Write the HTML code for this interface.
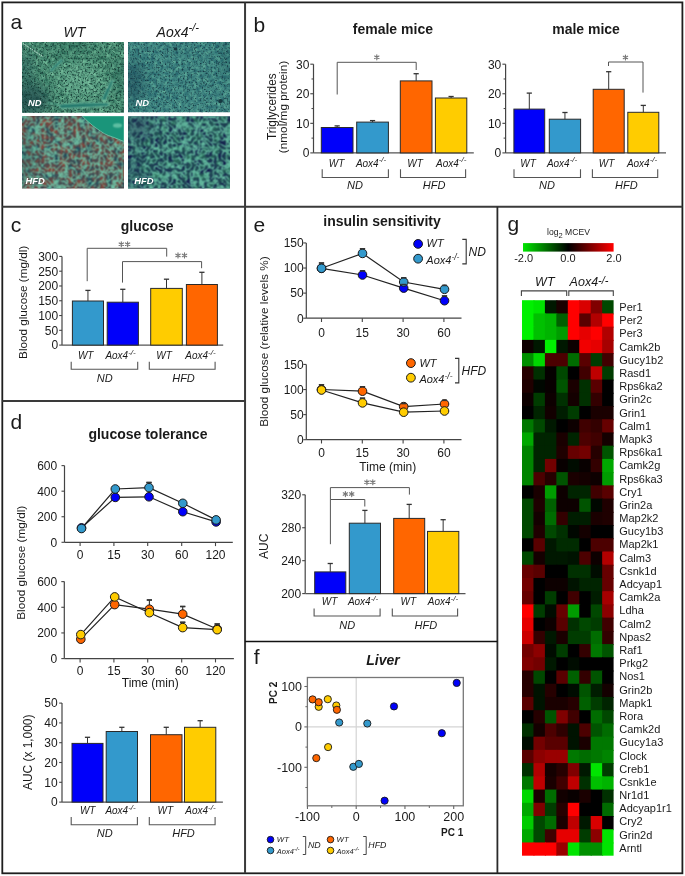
<!DOCTYPE html><html><head><meta charset="utf-8"><style>html,body{margin:0;padding:0;background:#fff;}svg{display:block;will-change:transform;}text{font-family:"Liberation Sans", sans-serif;}</style></head><body>
<svg width="685" height="876" viewBox="0 0 685 876">
<rect x="0" y="0" width="685" height="876" fill="#fff"/>
<defs><filter id="n1" x="0" y="0" width="100%" height="100%" color-interpolation-filters="sRGB"><feTurbulence type="fractalNoise" baseFrequency="0.33" numOctaves="2" seed="7"/><feColorMatrix type="matrix" values="0.678 0 0 0 -0.025  0.753 0 0 0 0.204  0.621 0 0 0 0.164  0 0 0 0 1"/><feConvolveMatrix order="3" kernelMatrix="1 2 1 2 4 2 1 2 1" edgeMode="duplicate" preserveAlpha="false"/></filter><filter id="n1d" x="0" y="0" width="100%" height="100%" color-interpolation-filters="sRGB"><feTurbulence type="fractalNoise" baseFrequency="0.55" numOctaves="2" seed="3" result="n"/><feColorMatrix in="n" type="matrix" values="0 0 0 0 0  0 0 0 0 0  0 0 0 0 0  3.0 0 0 0 -1.45" result="m"/><feFlood flood-color="#143a34"/><feComposite in2="m" operator="in" result="c"/></filter><filter id="n2" x="0" y="0" width="100%" height="100%" color-interpolation-filters="sRGB"><feTurbulence type="fractalNoise" baseFrequency="0.33" numOctaves="2" seed="8"/><feColorMatrix type="matrix" values="0.508 0 0 0 0.001  0.640 0 0 0 0.213  0.395 0 0 0 0.316  0 0 0 0 1"/><feConvolveMatrix order="3" kernelMatrix="1 2 1 2 4 2 1 2 1" edgeMode="duplicate" preserveAlpha="false"/></filter><filter id="n2d" x="0" y="0" width="100%" height="100%" color-interpolation-filters="sRGB"><feTurbulence type="fractalNoise" baseFrequency="0.55" numOctaves="2" seed="13" result="n"/><feColorMatrix in="n" type="matrix" values="0 0 0 0 0  0 0 0 0 0  0 0 0 0 0  3.0 0 0 0 -1.5" result="m"/><feFlood flood-color="#173a46"/><feComposite in2="m" operator="in" result="c"/></filter><filter id="h1" x="0" y="0" width="100%" height="100%" color-interpolation-filters="sRGB"><feTurbulence type="fractalNoise" baseFrequency="0.15" numOctaves="2" seed="3"/><feColorMatrix type="matrix" values="-0.835 0 0 0 0.770  0.088 0 0 0 0.254  0.285 0 0 0 0.159  0 0 0 0 1"/><feConvolveMatrix order="3" kernelMatrix="1 2 1 2 4 2 1 2 1" edgeMode="duplicate" preserveAlpha="false"/></filter><filter id="h1n" x="0" y="0" width="100%" height="100%" color-interpolation-filters="sRGB"><feTurbulence type="turbulence" baseFrequency="0.22" numOctaves="2" seed="9" result="n"/><feColorMatrix in="n" type="matrix" values="0 0 0 0 0  0 0 0 0 0  0 0 0 0 0  -5.5 0 0 0 1.6" result="m"/><feFlood flood-color="#6cbca0"/><feComposite in2="m" operator="in" result="c"/><feConvolveMatrix in="c" order="3" kernelMatrix="1 2 1 2 4 2 1 2 1" edgeMode="duplicate" preserveAlpha="false"/></filter><filter id="h1d" x="0" y="0" width="100%" height="100%" color-interpolation-filters="sRGB"><feTurbulence type="fractalNoise" baseFrequency="0.6" numOctaves="1" seed="2" result="n"/><feColorMatrix in="n" type="matrix" values="0 0 0 0 0  0 0 0 0 0  0 0 0 0 0  4 0 0 0 -2.3" result="m"/><feFlood flood-color="#1a3a40"/><feComposite in2="m" operator="in" result="c"/><feConvolveMatrix in="c" order="3" kernelMatrix="1 2 1 2 4 2 1 2 1" edgeMode="duplicate" preserveAlpha="false"/></filter><filter id="h2" x="0" y="0" width="100%" height="100%" color-interpolation-filters="sRGB"><feTurbulence type="fractalNoise" baseFrequency="0.15" numOctaves="2" seed="5"/><feColorMatrix type="matrix" values="0.154 0 0 0 0.045  0.571 0 0 0 -0.011  0.088 0 0 0 0.285  0 0 0 0 1"/><feConvolveMatrix order="3" kernelMatrix="1 2 1 2 4 2 1 2 1" edgeMode="duplicate" preserveAlpha="false"/></filter><filter id="h2n" x="0" y="0" width="100%" height="100%" color-interpolation-filters="sRGB"><feTurbulence type="turbulence" baseFrequency="0.22" numOctaves="2" seed="19" result="n"/><feColorMatrix in="n" type="matrix" values="0 0 0 0 0  0 0 0 0 0  0 0 0 0 0  -5.5 0 0 0 1.6" result="m"/><feFlood flood-color="#62b89e"/><feComposite in2="m" operator="in" result="c"/><feConvolveMatrix in="c" order="3" kernelMatrix="1 2 1 2 4 2 1 2 1" edgeMode="duplicate" preserveAlpha="false"/></filter><filter id="blur1" x="-50%" y="-50%" width="200%" height="200%"><feGaussianBlur stdDeviation="7"/></filter>
<filter id="blur2" x="-20%" y="-20%" width="140%" height="140%"><feConvolveMatrix order="3" kernelMatrix="1 2 1 2 4 2 1 2 1" edgeMode="none"/></filter>
<linearGradient id="cbar" x1="0" x2="1" y1="0" y2="0">
 <stop offset="0" stop-color="#00e600"/><stop offset="0.5" stop-color="#000"/><stop offset="1" stop-color="#ff0000"/>
</linearGradient>
<clipPath id="c1"><rect x="22" y="42" width="102" height="70.7"/></clipPath>
<clipPath id="c2"><rect x="128" y="42" width="102" height="70.2"/></clipPath>
<clipPath id="c3"><rect x="22" y="116" width="102" height="72.5"/></clipPath>
<clipPath id="c4"><rect x="128" y="116.2" width="102" height="72.3"/></clipPath>
</defs>
<text x="10.6" y="29.0" font-size="21" text-anchor="start" font-weight="normal" font-style="normal" fill="#1a1a1a" >a</text>
<text x="63.5" y="36.6" font-size="14" text-anchor="start" font-weight="normal" font-style="italic" fill="#1a1a1a" >WT</text>
<text x="156.6" y="36.5" font-size="14" text-anchor="start" font-style="italic" fill="#1a1a1a">Aox4<tspan dy="-5.2" font-size="11.2">-/-</tspan></text>
<g clip-path="url(#c1)">
<rect x="22" y="42" width="102" height="70.7" filter="url(#n1)"/>
<g filter="url(#blur1)" opacity="0.75"><ellipse cx="28" cy="100" rx="22" ry="16" fill="#1c4448"/><ellipse cx="24" cy="70" rx="8" ry="20" fill="#2c5e5c"/><ellipse cx="70" cy="47" rx="30" ry="5" fill="#2c6a5a"/><ellipse cx="120" cy="78" rx="7" ry="18" fill="#2c6a5c"/></g>
<g filter="url(#blur1)" opacity="0.35"><ellipse cx="80" cy="80" rx="22" ry="16" fill="#8ad0b0"/></g>
<rect x="22" y="42" width="102" height="70.7" filter="url(#n1d)"/>
<g filter="url(#blur2)"><path d="M49.5,70.5 Q55,64 61.5,59 L63.5,60.2 Q57,66 51.5,72 Z" fill="#277a6e" stroke="#7ccaae" stroke-width="0.7"/><path d="M101.5,99.5 Q106,89 111,80.5 L114,80 Q110,90 105.5,100.5 Z" fill="#277a6e" stroke="#7ccaae" stroke-width="0.7"/><path d="M60,104.2 Q84,102.2 108.5,103 Q109.5,105 108,106.2 Q84,107.5 61,108.6 Q58.5,106.5 60,104.2 Z" fill="#277a6e" stroke="#7ccaae" stroke-width="0.7"/><path d="M47,102.5 Q54,104 60,105" stroke="#5cb096" stroke-width="1" fill="none"/><circle cx="107" cy="87" r="0.6" fill="#e0fff0"/></g>
<path d="M23,43.5 Q33,50 43.5,57" stroke="#f0fffa" stroke-width="0.8" stroke-dasharray="1.6,1.1" fill="none"/>
</g>
<g clip-path="url(#c2)">
<rect x="128" y="42" width="102" height="70.2" filter="url(#n2)"/>
<g filter="url(#blur1)" opacity="0.7"><ellipse cx="133" cy="82" rx="10" ry="22" fill="#1c4c5a"/><ellipse cx="229" cy="60" rx="5" ry="20" fill="#245e62"/></g>
<rect x="128" y="42" width="102" height="70.2" filter="url(#n2d)"/>
<ellipse cx="175.5" cy="49" rx="2" ry="1.5" fill="#163840"/><ellipse cx="220.5" cy="101" rx="2.3" ry="2" fill="#163840"/>
</g>
<g clip-path="url(#c3)">
<rect x="22" y="116" width="102" height="72.5" filter="url(#h1)"/>
<rect x="22" y="116" width="102" height="72.5" filter="url(#h1d)"/>
<rect x="22" y="116" width="102" height="72.5" filter="url(#h1n)"/>
<g filter="url(#blur1)" opacity="0.35"><ellipse cx="26" cy="155" rx="8" ry="25" fill="#245a5a"/></g>
<path d="M82.3,116 Q85,119 88.8,122.2 Q93,126 97,128.7 Q101,131.5 104.3,133.6 Q108,135.6 112.5,136.9 Q118,139 124,141.5 L124,116 Z" fill="#1a957a" stroke="#6cc0a4" stroke-width="0.9"/>
<ellipse cx="117.5" cy="125.5" rx="4.5" ry="2.2" fill="#7ad0b4" opacity="0.7" filter="url(#blur2)"/>
</g>
<g clip-path="url(#c4)">
<rect x="128" y="116.2" width="102" height="72.3" filter="url(#h2)"/>
<rect x="128" y="116.2" width="102" height="72.3" filter="url(#h2n)"/>
<g filter="url(#blur1)" opacity="0.55"><ellipse cx="138" cy="127" rx="14" ry="13" fill="#1a2e50"/><ellipse cx="133" cy="170" rx="7" ry="18" fill="#1e3e56"/></g>
</g>
<text x="28.0" y="105.7" font-size="9.4" text-anchor="start" font-weight="bold" font-style="italic" fill="#fff" >ND</text>
<text x="135.4" y="106.1" font-size="9.4" text-anchor="start" font-weight="bold" font-style="italic" fill="#fff" >ND</text>
<text x="25.6" y="183.7" font-size="9.4" text-anchor="start" font-weight="bold" font-style="italic" fill="#fff" >HFD</text>
<text x="134.3" y="183.7" font-size="9.4" text-anchor="start" font-weight="bold" font-style="italic" fill="#fff" >HFD</text>
<text x="253.5" y="31.8" font-size="21" text-anchor="start" font-weight="normal" font-style="normal" fill="#1a1a1a" >b</text>
<text x="352.8" y="33.9" font-size="14" text-anchor="start" font-weight="bold" font-style="normal" fill="#1a1a1a" >female mice</text>
<text x="552.2" y="33.9" font-size="14" text-anchor="start" font-weight="bold" font-style="normal" fill="#1a1a1a" >male mice</text>
<line x1="313.50" y1="64.19" x2="313.50" y2="152.90" stroke="#444" stroke-width="1.2"/>
<line x1="310.30" y1="152.90" x2="313.50" y2="152.90" stroke="#444" stroke-width="1.1"/>
<text x="309.4" y="157.2" font-size="12" text-anchor="end" font-weight="normal" font-style="normal" fill="#1a1a1a" >0</text>
<line x1="310.30" y1="123.33" x2="313.50" y2="123.33" stroke="#444" stroke-width="1.1"/>
<text x="309.4" y="127.6" font-size="12" text-anchor="end" font-weight="normal" font-style="normal" fill="#1a1a1a" >10</text>
<line x1="310.30" y1="93.76" x2="313.50" y2="93.76" stroke="#444" stroke-width="1.1"/>
<text x="309.4" y="98.1" font-size="12" text-anchor="end" font-weight="normal" font-style="normal" fill="#1a1a1a" >20</text>
<line x1="310.30" y1="64.19" x2="313.50" y2="64.19" stroke="#444" stroke-width="1.1"/>
<text x="309.4" y="68.5" font-size="12" text-anchor="end" font-weight="normal" font-style="normal" fill="#1a1a1a" >30</text>
<line x1="311.50" y1="138.12" x2="313.50" y2="138.12" stroke="#444" stroke-width="1.0"/>
<line x1="311.50" y1="108.55" x2="313.50" y2="108.55" stroke="#444" stroke-width="1.0"/>
<line x1="311.50" y1="78.98" x2="313.50" y2="78.98" stroke="#444" stroke-width="1.0"/>
<line x1="505.60" y1="64.19" x2="505.60" y2="152.90" stroke="#444" stroke-width="1.2"/>
<line x1="502.40" y1="152.90" x2="505.60" y2="152.90" stroke="#444" stroke-width="1.1"/>
<text x="501.3" y="157.2" font-size="12" text-anchor="end" font-weight="normal" font-style="normal" fill="#1a1a1a" >0</text>
<line x1="502.40" y1="123.33" x2="505.60" y2="123.33" stroke="#444" stroke-width="1.1"/>
<text x="501.3" y="127.6" font-size="12" text-anchor="end" font-weight="normal" font-style="normal" fill="#1a1a1a" >10</text>
<line x1="502.40" y1="93.76" x2="505.60" y2="93.76" stroke="#444" stroke-width="1.1"/>
<text x="501.3" y="98.1" font-size="12" text-anchor="end" font-weight="normal" font-style="normal" fill="#1a1a1a" >20</text>
<line x1="502.40" y1="64.19" x2="505.60" y2="64.19" stroke="#444" stroke-width="1.1"/>
<text x="501.3" y="68.5" font-size="12" text-anchor="end" font-weight="normal" font-style="normal" fill="#1a1a1a" >30</text>
<line x1="503.60" y1="138.12" x2="505.60" y2="138.12" stroke="#444" stroke-width="1.0"/>
<line x1="503.60" y1="108.55" x2="505.60" y2="108.55" stroke="#444" stroke-width="1.0"/>
<line x1="503.60" y1="78.98" x2="505.60" y2="78.98" stroke="#444" stroke-width="1.0"/>
<line x1="313.50" y1="152.90" x2="473.80" y2="152.90" stroke="#555" stroke-width="1.3"/>
<line x1="505.60" y1="152.90" x2="666.00" y2="152.90" stroke="#555" stroke-width="1.3"/>
<text transform="translate(275.7,106.7) rotate(-90)" x="0" y="0" font-size="11.85" text-anchor="middle" font-weight="normal" font-style="normal" fill="#1a1a1a">Triglycerides</text>
<text transform="translate(286.6,107.0) rotate(-90)" x="0" y="0" font-size="11.8" text-anchor="middle" font-weight="normal" font-style="normal" fill="#1a1a1a">(nmol/mg protein)</text>
<rect x="321.30" y="127.50" width="31.70" height="25.40" fill="#0000fa" stroke="#2a2a2a" stroke-width="1"/>
<line x1="337.15" y1="127.50" x2="337.15" y2="125.90" stroke="#333" stroke-width="1"/>
<line x1="334.55" y1="125.90" x2="339.75" y2="125.90" stroke="#333" stroke-width="1.3"/>
<rect x="356.70" y="122.10" width="31.70" height="30.80" fill="#3399cc" stroke="#2a2a2a" stroke-width="1"/>
<line x1="372.55" y1="122.10" x2="372.55" y2="120.60" stroke="#333" stroke-width="1"/>
<line x1="369.95" y1="120.60" x2="375.15" y2="120.60" stroke="#333" stroke-width="1.3"/>
<rect x="400.30" y="80.90" width="31.70" height="72.00" fill="#ff6600" stroke="#2a2a2a" stroke-width="1"/>
<line x1="416.15" y1="80.90" x2="416.15" y2="73.70" stroke="#333" stroke-width="1"/>
<line x1="413.55" y1="73.70" x2="418.75" y2="73.70" stroke="#333" stroke-width="1.3"/>
<rect x="435.40" y="98.00" width="31.40" height="54.90" fill="#ffcc00" stroke="#2a2a2a" stroke-width="1"/>
<line x1="451.10" y1="98.00" x2="451.10" y2="96.50" stroke="#333" stroke-width="1"/>
<line x1="448.50" y1="96.50" x2="453.70" y2="96.50" stroke="#333" stroke-width="1.3"/>
<path d="M337.2,94.5 V62.3 H416.2 V70" stroke="#555" stroke-width="1" fill="none"/>
<path d="M376.80,54.80 L376.80,59.80 M374.63,56.05 L378.97,58.55 M378.97,56.05 L374.63,58.55 " stroke="#777" stroke-width="1.15" stroke-linecap="round" fill="none"/>
<rect x="513.90" y="109.10" width="30.80" height="43.80" fill="#0000fa" stroke="#2a2a2a" stroke-width="1"/>
<line x1="529.30" y1="109.10" x2="529.30" y2="93.10" stroke="#333" stroke-width="1"/>
<line x1="526.70" y1="93.10" x2="531.90" y2="93.10" stroke="#333" stroke-width="1.3"/>
<rect x="549.30" y="119.20" width="31.30" height="33.70" fill="#3399cc" stroke="#2a2a2a" stroke-width="1"/>
<line x1="564.95" y1="119.20" x2="564.95" y2="112.50" stroke="#333" stroke-width="1"/>
<line x1="562.35" y1="112.50" x2="567.55" y2="112.50" stroke="#333" stroke-width="1.3"/>
<rect x="593.20" y="89.30" width="31.00" height="63.60" fill="#ff6600" stroke="#2a2a2a" stroke-width="1"/>
<line x1="608.70" y1="89.30" x2="608.70" y2="71.70" stroke="#333" stroke-width="1"/>
<line x1="606.10" y1="71.70" x2="611.30" y2="71.70" stroke="#333" stroke-width="1.3"/>
<rect x="627.80" y="112.30" width="31.00" height="40.60" fill="#ffcc00" stroke="#2a2a2a" stroke-width="1"/>
<line x1="643.30" y1="112.30" x2="643.30" y2="105.40" stroke="#333" stroke-width="1"/>
<line x1="640.70" y1="105.40" x2="645.90" y2="105.40" stroke="#333" stroke-width="1.3"/>
<path d="M608.5,66 V62 H643 V92.6" stroke="#555" stroke-width="1" fill="none"/>
<path d="M625.45,54.95 L625.45,59.95 M623.28,56.20 L627.62,58.70 M627.62,56.20 L623.28,58.70 " stroke="#777" stroke-width="1.15" stroke-linecap="round" fill="none"/>
<text x="328.8" y="166.6" font-size="10" text-anchor="start" font-weight="normal" font-style="italic" fill="#1a1a1a" >WT</text>
<text x="355.9" y="166.6" font-size="10" text-anchor="start" font-style="italic" fill="#1a1a1a">Aox4<tspan dy="-4.2" font-size="8.0">-/-</tspan></text>
<text x="407.2" y="166.6" font-size="10" text-anchor="start" font-weight="normal" font-style="italic" fill="#1a1a1a" >WT</text>
<text x="436.0" y="166.6" font-size="10" text-anchor="start" font-style="italic" fill="#1a1a1a">Aox4<tspan dy="-4.2" font-size="8.0">-/-</tspan></text>
<path d="M322.2,169.3 V177.5 H388.4 V169.3" stroke="#555" stroke-width="1.1" fill="none"/>
<path d="M400.5,169.3 V177.5 H465.6 V169.3" stroke="#555" stroke-width="1.1" fill="none"/>
<text x="347.1" y="189.1" font-size="11" text-anchor="start" font-weight="normal" font-style="italic" fill="#1a1a1a" >ND</text>
<text x="422.8" y="189.1" font-size="11" text-anchor="start" font-weight="normal" font-style="italic" fill="#1a1a1a" >HFD</text>
<text x="520.2" y="166.6" font-size="10" text-anchor="start" font-weight="normal" font-style="italic" fill="#1a1a1a" >WT</text>
<text x="546.9" y="166.6" font-size="10" text-anchor="start" font-style="italic" fill="#1a1a1a">Aox4<tspan dy="-4.2" font-size="8.0">-/-</tspan></text>
<text x="598.7" y="166.6" font-size="10" text-anchor="start" font-weight="normal" font-style="italic" fill="#1a1a1a" >WT</text>
<text x="626.9" y="166.6" font-size="10" text-anchor="start" font-style="italic" fill="#1a1a1a">Aox4<tspan dy="-4.2" font-size="8.0">-/-</tspan></text>
<path d="M514.0,169.3 V177.5 H580.5 V169.3" stroke="#555" stroke-width="1.1" fill="none"/>
<path d="M592.4,169.3 V177.5 H657.7 V169.3" stroke="#555" stroke-width="1.1" fill="none"/>
<text x="539.0" y="189.1" font-size="11" text-anchor="start" font-weight="normal" font-style="italic" fill="#1a1a1a" >ND</text>
<text x="615.0" y="189.1" font-size="11" text-anchor="start" font-weight="normal" font-style="italic" fill="#1a1a1a" >HFD</text>
<text x="10.7" y="231.9" font-size="21" text-anchor="start" font-weight="normal" font-style="normal" fill="#1a1a1a" >c</text>
<text x="120.7" y="230.8" font-size="14" text-anchor="start" font-weight="bold" font-style="normal" fill="#1a1a1a" >glucose</text>
<line x1="62.00" y1="256.42" x2="62.00" y2="345.10" stroke="#444" stroke-width="1.2"/>
<line x1="59.20" y1="345.10" x2="62.00" y2="345.10" stroke="#444" stroke-width="1.1"/>
<text x="58.2" y="349.4" font-size="12" text-anchor="end" font-weight="normal" font-style="normal" fill="#1a1a1a" >0</text>
<line x1="59.20" y1="330.32" x2="62.00" y2="330.32" stroke="#444" stroke-width="1.1"/>
<text x="58.2" y="334.6" font-size="12" text-anchor="end" font-weight="normal" font-style="normal" fill="#1a1a1a" >50</text>
<line x1="59.20" y1="315.54" x2="62.00" y2="315.54" stroke="#444" stroke-width="1.1"/>
<text x="58.2" y="319.8" font-size="12" text-anchor="end" font-weight="normal" font-style="normal" fill="#1a1a1a" >100</text>
<line x1="59.20" y1="300.76" x2="62.00" y2="300.76" stroke="#444" stroke-width="1.1"/>
<text x="58.2" y="305.1" font-size="12" text-anchor="end" font-weight="normal" font-style="normal" fill="#1a1a1a" >150</text>
<line x1="59.20" y1="285.98" x2="62.00" y2="285.98" stroke="#444" stroke-width="1.1"/>
<text x="58.2" y="290.3" font-size="12" text-anchor="end" font-weight="normal" font-style="normal" fill="#1a1a1a" >200</text>
<line x1="59.20" y1="271.20" x2="62.00" y2="271.20" stroke="#444" stroke-width="1.1"/>
<text x="58.2" y="275.5" font-size="12" text-anchor="end" font-weight="normal" font-style="normal" fill="#1a1a1a" >250</text>
<line x1="59.20" y1="256.42" x2="62.00" y2="256.42" stroke="#444" stroke-width="1.1"/>
<text x="58.2" y="260.7" font-size="12" text-anchor="end" font-weight="normal" font-style="normal" fill="#1a1a1a" >300</text>
<line x1="62.00" y1="345.10" x2="223.20" y2="345.10" stroke="#555" stroke-width="1.3"/>
<text transform="translate(27.1,302.4) rotate(-90)" x="0" y="0" font-size="11.7" text-anchor="middle" font-weight="normal" font-style="normal" fill="#1a1a1a">Blood glucose (mg/dl)</text>
<rect x="72.40" y="301.00" width="31.10" height="44.10" fill="#3399cc" stroke="#2a2a2a" stroke-width="1"/>
<line x1="87.95" y1="301.00" x2="87.95" y2="290.40" stroke="#333" stroke-width="1"/>
<line x1="85.35" y1="290.40" x2="90.55" y2="290.40" stroke="#333" stroke-width="1.3"/>
<rect x="107.20" y="302.20" width="31.20" height="42.90" fill="#0000fa" stroke="#2a2a2a" stroke-width="1"/>
<line x1="122.80" y1="302.20" x2="122.80" y2="289.30" stroke="#333" stroke-width="1"/>
<line x1="120.20" y1="289.30" x2="125.40" y2="289.30" stroke="#333" stroke-width="1.3"/>
<rect x="150.70" y="288.40" width="31.60" height="56.70" fill="#ffcc00" stroke="#2a2a2a" stroke-width="1"/>
<line x1="166.50" y1="288.40" x2="166.50" y2="279.20" stroke="#333" stroke-width="1"/>
<line x1="163.90" y1="279.20" x2="169.10" y2="279.20" stroke="#333" stroke-width="1.3"/>
<rect x="186.40" y="284.50" width="31.00" height="60.60" fill="#ff6600" stroke="#2a2a2a" stroke-width="1"/>
<line x1="201.90" y1="284.50" x2="201.90" y2="272.30" stroke="#333" stroke-width="1"/>
<line x1="199.30" y1="272.30" x2="204.50" y2="272.30" stroke="#333" stroke-width="1.3"/>
<path d="M87.2,281.2 V248.3 H166.7 V256.6" stroke="#555" stroke-width="1" fill="none"/>
<path d="M122.5,282.6 V261.6 H201.6 V268.2" stroke="#555" stroke-width="1" fill="none"/>
<path d="M121.30,241.70 L121.30,246.70 M119.13,242.95 L123.47,245.45 M123.47,242.95 L119.13,245.45 " stroke="#777" stroke-width="1.15" stroke-linecap="round" fill="none"/>
<path d="M127.60,241.70 L127.60,246.70 M125.43,242.95 L129.77,245.45 M129.77,242.95 L125.43,245.45 " stroke="#777" stroke-width="1.15" stroke-linecap="round" fill="none"/>
<path d="M178.00,252.90 L178.00,257.90 M175.83,254.15 L180.17,256.65 M180.17,254.15 L175.83,256.65 " stroke="#777" stroke-width="1.15" stroke-linecap="round" fill="none"/>
<path d="M184.50,252.90 L184.50,257.90 M182.33,254.15 L186.67,256.65 M186.67,254.15 L182.33,256.65 " stroke="#777" stroke-width="1.15" stroke-linecap="round" fill="none"/>
<text x="77.9" y="359.4" font-size="10" text-anchor="start" font-weight="normal" font-style="italic" fill="#1a1a1a" >WT</text>
<text x="105.4" y="359.4" font-size="10" text-anchor="start" font-style="italic" fill="#1a1a1a">Aox4<tspan dy="-4.2" font-size="8.0">-/-</tspan></text>
<text x="156.3" y="359.4" font-size="10" text-anchor="start" font-weight="normal" font-style="italic" fill="#1a1a1a" >WT</text>
<text x="185.3" y="359.4" font-size="10" text-anchor="start" font-style="italic" fill="#1a1a1a">Aox4<tspan dy="-4.2" font-size="8.0">-/-</tspan></text>
<path d="M71.2,361.8 V369.3 H137.7 V361.8" stroke="#555" stroke-width="1.1" fill="none"/>
<path d="M149.3,361.8 V369.3 H215.1 V361.8" stroke="#555" stroke-width="1.1" fill="none"/>
<text x="96.7" y="381.7" font-size="11" text-anchor="start" font-weight="normal" font-style="italic" fill="#1a1a1a" >ND</text>
<text x="172.2" y="381.7" font-size="11" text-anchor="start" font-weight="normal" font-style="italic" fill="#1a1a1a" >HFD</text>
<text x="10.4" y="428.9" font-size="21" text-anchor="start" font-weight="normal" font-style="normal" fill="#1a1a1a" >d</text>
<text x="88.4" y="439.3" font-size="14" text-anchor="start" font-weight="bold" font-style="normal" fill="#1a1a1a" >glucose tolerance</text>
<text transform="translate(25.4,562.8) rotate(-90)" x="0" y="0" font-size="11.8" text-anchor="middle" font-weight="normal" font-style="normal" fill="#1a1a1a">Blood glucose (mg/dl)</text>
<line x1="64.50" y1="465.62" x2="64.50" y2="542.30" stroke="#444" stroke-width="1.2"/>
<line x1="61.50" y1="542.30" x2="64.50" y2="542.30" stroke="#444" stroke-width="1.1"/>
<text x="57.2" y="546.6" font-size="12" text-anchor="end" font-weight="normal" font-style="normal" fill="#1a1a1a" >0</text>
<line x1="61.50" y1="516.74" x2="64.50" y2="516.74" stroke="#444" stroke-width="1.1"/>
<text x="57.2" y="521.0" font-size="12" text-anchor="end" font-weight="normal" font-style="normal" fill="#1a1a1a" >200</text>
<line x1="61.50" y1="491.18" x2="64.50" y2="491.18" stroke="#444" stroke-width="1.1"/>
<text x="57.2" y="495.5" font-size="12" text-anchor="end" font-weight="normal" font-style="normal" fill="#1a1a1a" >400</text>
<line x1="61.50" y1="465.62" x2="64.50" y2="465.62" stroke="#444" stroke-width="1.1"/>
<text x="57.2" y="469.9" font-size="12" text-anchor="end" font-weight="normal" font-style="normal" fill="#1a1a1a" >600</text>
<line x1="64.50" y1="542.30" x2="232.80" y2="542.30" stroke="#444" stroke-width="1.3"/>
<line x1="80.10" y1="542.30" x2="80.10" y2="546.10" stroke="#444" stroke-width="1.1"/>
<text x="80.1" y="559.1" font-size="12" text-anchor="middle" font-weight="normal" font-style="normal" fill="#1a1a1a" >0</text>
<line x1="113.90" y1="542.30" x2="113.90" y2="546.10" stroke="#444" stroke-width="1.1"/>
<text x="113.9" y="559.1" font-size="12" text-anchor="middle" font-weight="normal" font-style="normal" fill="#1a1a1a" >15</text>
<line x1="147.70" y1="542.30" x2="147.70" y2="546.10" stroke="#444" stroke-width="1.1"/>
<text x="147.7" y="559.1" font-size="12" text-anchor="middle" font-weight="normal" font-style="normal" fill="#1a1a1a" >30</text>
<line x1="181.70" y1="542.30" x2="181.70" y2="546.10" stroke="#444" stroke-width="1.1"/>
<text x="181.7" y="559.1" font-size="12" text-anchor="middle" font-weight="normal" font-style="normal" fill="#1a1a1a" >60</text>
<line x1="215.50" y1="542.30" x2="215.50" y2="546.10" stroke="#444" stroke-width="1.1"/>
<text x="215.5" y="559.1" font-size="12" text-anchor="middle" font-weight="normal" font-style="normal" fill="#1a1a1a" >120</text>
<line x1="64.30" y1="581.62" x2="64.30" y2="658.60" stroke="#444" stroke-width="1.2"/>
<line x1="61.30" y1="658.60" x2="64.30" y2="658.60" stroke="#444" stroke-width="1.1"/>
<text x="57.2" y="662.9" font-size="12" text-anchor="end" font-weight="normal" font-style="normal" fill="#1a1a1a" >0</text>
<line x1="61.30" y1="632.94" x2="64.30" y2="632.94" stroke="#444" stroke-width="1.1"/>
<text x="57.2" y="637.2" font-size="12" text-anchor="end" font-weight="normal" font-style="normal" fill="#1a1a1a" >200</text>
<line x1="61.30" y1="607.28" x2="64.30" y2="607.28" stroke="#444" stroke-width="1.1"/>
<text x="57.2" y="611.6" font-size="12" text-anchor="end" font-weight="normal" font-style="normal" fill="#1a1a1a" >400</text>
<line x1="61.30" y1="581.62" x2="64.30" y2="581.62" stroke="#444" stroke-width="1.1"/>
<text x="57.2" y="585.9" font-size="12" text-anchor="end" font-weight="normal" font-style="normal" fill="#1a1a1a" >600</text>
<line x1="64.30" y1="658.60" x2="233.90" y2="658.60" stroke="#444" stroke-width="1.3"/>
<line x1="80.10" y1="658.60" x2="80.10" y2="662.40" stroke="#444" stroke-width="1.1"/>
<text x="80.1" y="674.5" font-size="12" text-anchor="middle" font-weight="normal" font-style="normal" fill="#1a1a1a" >0</text>
<line x1="113.90" y1="658.60" x2="113.90" y2="662.40" stroke="#444" stroke-width="1.1"/>
<text x="113.9" y="674.5" font-size="12" text-anchor="middle" font-weight="normal" font-style="normal" fill="#1a1a1a" >15</text>
<line x1="147.70" y1="658.60" x2="147.70" y2="662.40" stroke="#444" stroke-width="1.1"/>
<text x="147.7" y="674.5" font-size="12" text-anchor="middle" font-weight="normal" font-style="normal" fill="#1a1a1a" >30</text>
<line x1="181.70" y1="658.60" x2="181.70" y2="662.40" stroke="#444" stroke-width="1.1"/>
<text x="181.7" y="674.5" font-size="12" text-anchor="middle" font-weight="normal" font-style="normal" fill="#1a1a1a" >60</text>
<line x1="215.50" y1="658.60" x2="215.50" y2="662.40" stroke="#444" stroke-width="1.1"/>
<text x="215.5" y="674.5" font-size="12" text-anchor="middle" font-weight="normal" font-style="normal" fill="#1a1a1a" >120</text>
<text x="150.2" y="687.1" font-size="12" text-anchor="middle" font-weight="normal" font-style="normal" fill="#1a1a1a" >Time (min)</text>
<polyline points="81.5,527.9 115.3,497.4 149.0,496.8 182.8,511.7 216.1,521.9" fill="none" stroke="#222" stroke-width="1.2"/>
<polyline points="81.5,528.5 115.3,489.0 149.0,487.6 182.8,503.3 216.1,519.9" fill="none" stroke="#222" stroke-width="1.2"/>
<line x1="149.00" y1="487.60" x2="149.00" y2="482.50" stroke="#333" stroke-width="1.1"/>
<line x1="146.40" y1="482.50" x2="151.60" y2="482.50" stroke="#333" stroke-width="1.4"/>
<circle cx="81.50" cy="527.90" r="4.3" fill="#0000fa" stroke="#1a1a1a" stroke-width="1"/>
<circle cx="115.30" cy="497.40" r="4.3" fill="#0000fa" stroke="#1a1a1a" stroke-width="1"/>
<circle cx="149.00" cy="496.80" r="4.3" fill="#0000fa" stroke="#1a1a1a" stroke-width="1"/>
<circle cx="182.80" cy="511.70" r="4.3" fill="#0000fa" stroke="#1a1a1a" stroke-width="1"/>
<circle cx="216.10" cy="521.90" r="4.3" fill="#0000fa" stroke="#1a1a1a" stroke-width="1"/>
<circle cx="81.50" cy="528.50" r="4.3" fill="#3399cc" stroke="#1a1a1a" stroke-width="1"/>
<circle cx="115.30" cy="489.00" r="4.3" fill="#3399cc" stroke="#1a1a1a" stroke-width="1"/>
<circle cx="149.00" cy="487.60" r="4.3" fill="#3399cc" stroke="#1a1a1a" stroke-width="1"/>
<circle cx="182.80" cy="503.30" r="4.3" fill="#3399cc" stroke="#1a1a1a" stroke-width="1"/>
<circle cx="216.10" cy="519.90" r="4.3" fill="#3399cc" stroke="#1a1a1a" stroke-width="1"/>
<line x1="146.40" y1="482.50" x2="151.60" y2="482.50" stroke="#333" stroke-width="1.4"/>
<polyline points="80.8,639.2 114.7,604.6 149.4,609.2 182.7,614.1 217.2,629.0" fill="none" stroke="#222" stroke-width="1.2"/>
<polyline points="80.8,634.6 114.7,596.9 149.4,612.7 182.7,627.6 217.2,629.7" fill="none" stroke="#222" stroke-width="1.2"/>
<line x1="149.40" y1="609.20" x2="149.40" y2="600.00" stroke="#333" stroke-width="1.1"/>
<line x1="146.80" y1="600.00" x2="152.00" y2="600.00" stroke="#333" stroke-width="1.4"/>
<line x1="182.70" y1="614.10" x2="182.70" y2="606.50" stroke="#333" stroke-width="1.1"/>
<line x1="180.10" y1="606.50" x2="185.30" y2="606.50" stroke="#333" stroke-width="1.4"/>
<line x1="182.70" y1="627.60" x2="182.70" y2="622.30" stroke="#333" stroke-width="1.1"/>
<line x1="180.10" y1="622.30" x2="185.30" y2="622.30" stroke="#333" stroke-width="1.4"/>
<line x1="217.20" y1="629.00" x2="217.20" y2="624.00" stroke="#333" stroke-width="1.1"/>
<line x1="214.60" y1="624.00" x2="219.80" y2="624.00" stroke="#333" stroke-width="1.4"/>
<circle cx="80.80" cy="639.20" r="4.3" fill="#ff6600" stroke="#1a1a1a" stroke-width="1"/>
<circle cx="114.70" cy="604.60" r="4.3" fill="#ff6600" stroke="#1a1a1a" stroke-width="1"/>
<circle cx="149.40" cy="609.20" r="4.3" fill="#ff6600" stroke="#1a1a1a" stroke-width="1"/>
<circle cx="182.70" cy="614.10" r="4.3" fill="#ff6600" stroke="#1a1a1a" stroke-width="1"/>
<circle cx="217.20" cy="629.00" r="4.3" fill="#ff6600" stroke="#1a1a1a" stroke-width="1"/>
<circle cx="80.80" cy="634.60" r="4.3" fill="#ffcc00" stroke="#1a1a1a" stroke-width="1"/>
<circle cx="114.70" cy="596.90" r="4.3" fill="#ffcc00" stroke="#1a1a1a" stroke-width="1"/>
<circle cx="149.40" cy="612.70" r="4.3" fill="#ffcc00" stroke="#1a1a1a" stroke-width="1"/>
<circle cx="182.70" cy="627.60" r="4.3" fill="#ffcc00" stroke="#1a1a1a" stroke-width="1"/>
<circle cx="217.20" cy="629.70" r="4.3" fill="#ffcc00" stroke="#1a1a1a" stroke-width="1"/>
<line x1="146.80" y1="600.00" x2="152.00" y2="600.00" stroke="#333" stroke-width="1.4"/>
<line x1="180.10" y1="606.50" x2="185.30" y2="606.50" stroke="#333" stroke-width="1.4"/>
<line x1="180.10" y1="622.30" x2="185.30" y2="622.30" stroke="#333" stroke-width="1.4"/>
<line x1="214.60" y1="624.00" x2="219.80" y2="624.00" stroke="#333" stroke-width="1.4"/>
<line x1="62.00" y1="703.10" x2="62.00" y2="802.10" stroke="#444" stroke-width="1.2"/>
<line x1="59.20" y1="802.10" x2="62.00" y2="802.10" stroke="#444" stroke-width="1.1"/>
<text x="57.7" y="806.4" font-size="12" text-anchor="end" font-weight="normal" font-style="normal" fill="#1a1a1a" >0</text>
<line x1="59.20" y1="782.30" x2="62.00" y2="782.30" stroke="#444" stroke-width="1.1"/>
<text x="57.7" y="786.6" font-size="12" text-anchor="end" font-weight="normal" font-style="normal" fill="#1a1a1a" >10</text>
<line x1="59.20" y1="762.50" x2="62.00" y2="762.50" stroke="#444" stroke-width="1.1"/>
<text x="57.7" y="766.8" font-size="12" text-anchor="end" font-weight="normal" font-style="normal" fill="#1a1a1a" >20</text>
<line x1="59.20" y1="742.70" x2="62.00" y2="742.70" stroke="#444" stroke-width="1.1"/>
<text x="57.7" y="747.0" font-size="12" text-anchor="end" font-weight="normal" font-style="normal" fill="#1a1a1a" >30</text>
<line x1="59.20" y1="722.90" x2="62.00" y2="722.90" stroke="#444" stroke-width="1.1"/>
<text x="57.7" y="727.2" font-size="12" text-anchor="end" font-weight="normal" font-style="normal" fill="#1a1a1a" >40</text>
<line x1="59.20" y1="703.10" x2="62.00" y2="703.10" stroke="#444" stroke-width="1.1"/>
<text x="57.7" y="707.4" font-size="12" text-anchor="end" font-weight="normal" font-style="normal" fill="#1a1a1a" >50</text>
<line x1="62.00" y1="802.10" x2="222.90" y2="802.10" stroke="#555" stroke-width="1.3"/>
<text transform="translate(32.0,752.3) rotate(-90)" x="0" y="0" font-size="11.9" text-anchor="middle" font-weight="normal" font-style="normal" fill="#1a1a1a">AUC (x 1,000)</text>
<rect x="72.00" y="743.40" width="31.00" height="58.70" fill="#0000fa" stroke="#2a2a2a" stroke-width="1"/>
<line x1="87.50" y1="743.40" x2="87.50" y2="737.30" stroke="#333" stroke-width="1"/>
<line x1="84.90" y1="737.30" x2="90.10" y2="737.30" stroke="#333" stroke-width="1.3"/>
<rect x="106.20" y="731.50" width="31.30" height="70.60" fill="#3399cc" stroke="#2a2a2a" stroke-width="1"/>
<line x1="121.85" y1="731.50" x2="121.85" y2="727.30" stroke="#333" stroke-width="1"/>
<line x1="119.25" y1="727.30" x2="124.45" y2="727.30" stroke="#333" stroke-width="1.3"/>
<rect x="150.50" y="734.70" width="31.50" height="67.40" fill="#ff6600" stroke="#2a2a2a" stroke-width="1"/>
<line x1="166.25" y1="734.70" x2="166.25" y2="727.30" stroke="#333" stroke-width="1"/>
<line x1="163.65" y1="727.30" x2="168.85" y2="727.30" stroke="#333" stroke-width="1.3"/>
<rect x="184.50" y="727.30" width="31.30" height="74.80" fill="#ffcc00" stroke="#2a2a2a" stroke-width="1"/>
<line x1="200.15" y1="727.30" x2="200.15" y2="720.70" stroke="#333" stroke-width="1"/>
<line x1="197.55" y1="720.70" x2="202.75" y2="720.70" stroke="#333" stroke-width="1.3"/>
<text x="79.9" y="814.4" font-size="10" text-anchor="start" font-weight="normal" font-style="italic" fill="#1a1a1a" >WT</text>
<text x="105.4" y="814.4" font-size="10" text-anchor="start" font-style="italic" fill="#1a1a1a">Aox4<tspan dy="-4.2" font-size="8.0">-/-</tspan></text>
<text x="157.5" y="814.4" font-size="10" text-anchor="start" font-weight="normal" font-style="italic" fill="#1a1a1a" >WT</text>
<text x="185.3" y="814.4" font-size="10" text-anchor="start" font-style="italic" fill="#1a1a1a">Aox4<tspan dy="-4.2" font-size="8.0">-/-</tspan></text>
<path d="M71.2,816.9 V824.8 H137.4 V816.9" stroke="#555" stroke-width="1.1" fill="none"/>
<path d="M149.3,816.9 V824.8 H215.1 V816.9" stroke="#555" stroke-width="1.1" fill="none"/>
<text x="96.7" y="837.2" font-size="11" text-anchor="start" font-weight="normal" font-style="italic" fill="#1a1a1a" >ND</text>
<text x="172.2" y="837.2" font-size="11" text-anchor="start" font-weight="normal" font-style="italic" fill="#1a1a1a" >HFD</text>
<text x="253.4" y="231.9" font-size="21" text-anchor="start" font-weight="normal" font-style="normal" fill="#1a1a1a" >e</text>
<text x="323.3" y="226.4" font-size="14" text-anchor="start" font-weight="bold" font-style="normal" fill="#1a1a1a" >insulin sensitivity</text>
<text transform="translate(267.7,341.6) rotate(-90)" x="0" y="0" font-size="11.8" text-anchor="middle" font-weight="normal" font-style="normal" fill="#1a1a1a">Blood glucose (relative levels %)</text>
<line x1="306.30" y1="242.94" x2="306.30" y2="318.20" stroke="#444" stroke-width="1.2"/>
<line x1="303.30" y1="318.20" x2="306.30" y2="318.20" stroke="#444" stroke-width="1.1"/>
<text x="303.7" y="322.5" font-size="12" text-anchor="end" font-weight="normal" font-style="normal" fill="#1a1a1a" >0</text>
<line x1="303.30" y1="293.12" x2="306.30" y2="293.12" stroke="#444" stroke-width="1.1"/>
<text x="303.7" y="297.4" font-size="12" text-anchor="end" font-weight="normal" font-style="normal" fill="#1a1a1a" >50</text>
<line x1="303.30" y1="268.03" x2="306.30" y2="268.03" stroke="#444" stroke-width="1.1"/>
<text x="303.7" y="272.3" font-size="12" text-anchor="end" font-weight="normal" font-style="normal" fill="#1a1a1a" >100</text>
<line x1="303.30" y1="242.94" x2="306.30" y2="242.94" stroke="#444" stroke-width="1.1"/>
<text x="303.7" y="247.2" font-size="12" text-anchor="end" font-weight="normal" font-style="normal" fill="#1a1a1a" >150</text>
<line x1="306.30" y1="318.20" x2="461.50" y2="318.20" stroke="#444" stroke-width="1.3"/>
<line x1="321.50" y1="318.20" x2="321.50" y2="322.00" stroke="#444" stroke-width="1.1"/>
<text x="321.5" y="336.5" font-size="12" text-anchor="middle" font-weight="normal" font-style="normal" fill="#1a1a1a" >0</text>
<line x1="362.30" y1="318.20" x2="362.30" y2="322.00" stroke="#444" stroke-width="1.1"/>
<text x="362.3" y="336.5" font-size="12" text-anchor="middle" font-weight="normal" font-style="normal" fill="#1a1a1a" >15</text>
<line x1="403.10" y1="318.20" x2="403.10" y2="322.00" stroke="#444" stroke-width="1.1"/>
<text x="403.1" y="336.5" font-size="12" text-anchor="middle" font-weight="normal" font-style="normal" fill="#1a1a1a" >30</text>
<line x1="443.90" y1="318.20" x2="443.90" y2="322.00" stroke="#444" stroke-width="1.1"/>
<text x="443.9" y="336.5" font-size="12" text-anchor="middle" font-weight="normal" font-style="normal" fill="#1a1a1a" >60</text>
<line x1="306.30" y1="364.44" x2="306.30" y2="439.70" stroke="#444" stroke-width="1.2"/>
<line x1="303.30" y1="439.70" x2="306.30" y2="439.70" stroke="#444" stroke-width="1.1"/>
<text x="303.7" y="444.0" font-size="12" text-anchor="end" font-weight="normal" font-style="normal" fill="#1a1a1a" >0</text>
<line x1="303.30" y1="414.62" x2="306.30" y2="414.62" stroke="#444" stroke-width="1.1"/>
<text x="303.7" y="418.9" font-size="12" text-anchor="end" font-weight="normal" font-style="normal" fill="#1a1a1a" >50</text>
<line x1="303.30" y1="389.53" x2="306.30" y2="389.53" stroke="#444" stroke-width="1.1"/>
<text x="303.7" y="393.8" font-size="12" text-anchor="end" font-weight="normal" font-style="normal" fill="#1a1a1a" >100</text>
<line x1="303.30" y1="364.44" x2="306.30" y2="364.44" stroke="#444" stroke-width="1.1"/>
<text x="303.7" y="368.7" font-size="12" text-anchor="end" font-weight="normal" font-style="normal" fill="#1a1a1a" >150</text>
<line x1="306.30" y1="439.70" x2="461.50" y2="439.70" stroke="#444" stroke-width="1.3"/>
<line x1="321.50" y1="439.70" x2="321.50" y2="443.50" stroke="#444" stroke-width="1.1"/>
<text x="321.5" y="456.9" font-size="12" text-anchor="middle" font-weight="normal" font-style="normal" fill="#1a1a1a" >0</text>
<line x1="362.30" y1="439.70" x2="362.30" y2="443.50" stroke="#444" stroke-width="1.1"/>
<text x="362.3" y="456.9" font-size="12" text-anchor="middle" font-weight="normal" font-style="normal" fill="#1a1a1a" >15</text>
<line x1="403.10" y1="439.70" x2="403.10" y2="443.50" stroke="#444" stroke-width="1.1"/>
<text x="403.1" y="456.9" font-size="12" text-anchor="middle" font-weight="normal" font-style="normal" fill="#1a1a1a" >30</text>
<line x1="443.90" y1="439.70" x2="443.90" y2="443.50" stroke="#444" stroke-width="1.1"/>
<text x="443.9" y="456.9" font-size="12" text-anchor="middle" font-weight="normal" font-style="normal" fill="#1a1a1a" >60</text>
<text x="387.8" y="471.2" font-size="12" text-anchor="middle" font-weight="normal" font-style="normal" fill="#1a1a1a" >Time (min)</text>
<polyline points="321.5,268.3 362.5,275.0 403.7,288.1 444.5,300.7" fill="none" stroke="#222" stroke-width="1.2"/>
<polyline points="321.5,268.3 362.5,253.4 403.7,282.0 444.5,289.3" fill="none" stroke="#222" stroke-width="1.2"/>
<line x1="444.50" y1="300.70" x2="444.50" y2="296.00" stroke="#333" stroke-width="1.1"/>
<line x1="441.90" y1="296.00" x2="447.10" y2="296.00" stroke="#333" stroke-width="1.4"/>
<line x1="362.50" y1="275.00" x2="362.50" y2="271.00" stroke="#333" stroke-width="1.1"/>
<line x1="359.90" y1="271.00" x2="365.10" y2="271.00" stroke="#333" stroke-width="1.4"/>
<line x1="403.70" y1="288.10" x2="403.70" y2="284.50" stroke="#333" stroke-width="1.1"/>
<line x1="401.10" y1="284.50" x2="406.30" y2="284.50" stroke="#333" stroke-width="1.4"/>
<circle cx="321.50" cy="268.30" r="4.3" fill="#0000fa" stroke="#1a1a1a" stroke-width="1"/>
<circle cx="362.50" cy="275.00" r="4.3" fill="#0000fa" stroke="#1a1a1a" stroke-width="1"/>
<circle cx="403.70" cy="288.10" r="4.3" fill="#0000fa" stroke="#1a1a1a" stroke-width="1"/>
<circle cx="444.50" cy="300.70" r="4.3" fill="#0000fa" stroke="#1a1a1a" stroke-width="1"/>
<line x1="321.50" y1="268.30" x2="321.50" y2="263.00" stroke="#333" stroke-width="1.1"/>
<line x1="318.90" y1="263.00" x2="324.10" y2="263.00" stroke="#333" stroke-width="1.4"/>
<line x1="362.50" y1="253.40" x2="362.50" y2="248.70" stroke="#333" stroke-width="1.1"/>
<line x1="359.90" y1="248.70" x2="365.10" y2="248.70" stroke="#333" stroke-width="1.4"/>
<line x1="403.70" y1="282.00" x2="403.70" y2="277.90" stroke="#333" stroke-width="1.1"/>
<line x1="401.10" y1="277.90" x2="406.30" y2="277.90" stroke="#333" stroke-width="1.4"/>
<line x1="444.50" y1="289.30" x2="444.50" y2="285.50" stroke="#333" stroke-width="1.1"/>
<line x1="441.90" y1="285.50" x2="447.10" y2="285.50" stroke="#333" stroke-width="1.4"/>
<circle cx="321.50" cy="268.30" r="4.3" fill="#3399cc" stroke="#1a1a1a" stroke-width="1"/>
<circle cx="362.50" cy="253.40" r="4.3" fill="#3399cc" stroke="#1a1a1a" stroke-width="1"/>
<circle cx="403.70" cy="282.00" r="4.3" fill="#3399cc" stroke="#1a1a1a" stroke-width="1"/>
<circle cx="444.50" cy="289.30" r="4.3" fill="#3399cc" stroke="#1a1a1a" stroke-width="1"/>
<line x1="441.90" y1="296.00" x2="447.10" y2="296.00" stroke="#333" stroke-width="1.4"/>
<line x1="359.90" y1="271.00" x2="365.10" y2="271.00" stroke="#333" stroke-width="1.4"/>
<line x1="401.10" y1="284.50" x2="406.30" y2="284.50" stroke="#333" stroke-width="1.4"/>
<line x1="318.90" y1="263.00" x2="324.10" y2="263.00" stroke="#333" stroke-width="1.4"/>
<line x1="359.90" y1="248.70" x2="365.10" y2="248.70" stroke="#333" stroke-width="1.4"/>
<line x1="401.10" y1="277.90" x2="406.30" y2="277.90" stroke="#333" stroke-width="1.4"/>
<line x1="441.90" y1="285.50" x2="447.10" y2="285.50" stroke="#333" stroke-width="1.4"/>
<polyline points="321.5,389.5 362.5,391.2 403.7,406.6 444.5,404.0" fill="none" stroke="#222" stroke-width="1.2"/>
<polyline points="321.5,390.0 362.5,402.9 403.7,412.2 444.5,411.0" fill="none" stroke="#222" stroke-width="1.2"/>
<line x1="321.50" y1="389.50" x2="321.50" y2="384.70" stroke="#333" stroke-width="1.1"/>
<line x1="318.90" y1="384.70" x2="324.10" y2="384.70" stroke="#333" stroke-width="1.4"/>
<line x1="362.50" y1="391.20" x2="362.50" y2="386.80" stroke="#333" stroke-width="1.1"/>
<line x1="359.90" y1="386.80" x2="365.10" y2="386.80" stroke="#333" stroke-width="1.4"/>
<line x1="403.70" y1="406.60" x2="403.70" y2="403.60" stroke="#333" stroke-width="1.1"/>
<line x1="401.10" y1="403.60" x2="406.30" y2="403.60" stroke="#333" stroke-width="1.4"/>
<line x1="444.50" y1="404.00" x2="444.50" y2="400.40" stroke="#333" stroke-width="1.1"/>
<line x1="441.90" y1="400.40" x2="447.10" y2="400.40" stroke="#333" stroke-width="1.4"/>
<circle cx="321.50" cy="389.50" r="4.3" fill="#ff6600" stroke="#1a1a1a" stroke-width="1"/>
<circle cx="362.50" cy="391.20" r="4.3" fill="#ff6600" stroke="#1a1a1a" stroke-width="1"/>
<circle cx="403.70" cy="406.60" r="4.3" fill="#ff6600" stroke="#1a1a1a" stroke-width="1"/>
<circle cx="444.50" cy="404.00" r="4.3" fill="#ff6600" stroke="#1a1a1a" stroke-width="1"/>
<line x1="362.50" y1="402.90" x2="362.50" y2="398.20" stroke="#333" stroke-width="1.1"/>
<line x1="359.90" y1="398.20" x2="365.10" y2="398.20" stroke="#333" stroke-width="1.4"/>
<circle cx="321.50" cy="390.00" r="4.3" fill="#ffcc00" stroke="#1a1a1a" stroke-width="1"/>
<circle cx="362.50" cy="402.90" r="4.3" fill="#ffcc00" stroke="#1a1a1a" stroke-width="1"/>
<circle cx="403.70" cy="412.20" r="4.3" fill="#ffcc00" stroke="#1a1a1a" stroke-width="1"/>
<circle cx="444.50" cy="411.00" r="4.3" fill="#ffcc00" stroke="#1a1a1a" stroke-width="1"/>
<line x1="318.90" y1="384.70" x2="324.10" y2="384.70" stroke="#333" stroke-width="1.4"/>
<line x1="359.90" y1="386.80" x2="365.10" y2="386.80" stroke="#333" stroke-width="1.4"/>
<line x1="401.10" y1="403.60" x2="406.30" y2="403.60" stroke="#333" stroke-width="1.4"/>
<line x1="441.90" y1="400.40" x2="447.10" y2="400.40" stroke="#333" stroke-width="1.4"/>
<line x1="359.90" y1="398.20" x2="365.10" y2="398.20" stroke="#333" stroke-width="1.4"/>
<circle cx="418.10" cy="243.90" r="4.4" fill="#0000fa" stroke="#1a1a1a" stroke-width="1"/>
<text x="426.6" y="247.3" font-size="11" text-anchor="start" font-weight="normal" font-style="italic" fill="#1a1a1a" >WT</text>
<circle cx="418.10" cy="258.70" r="4.4" fill="#3399cc" stroke="#1a1a1a" stroke-width="1"/>
<text x="426.3" y="263.6" font-size="11" text-anchor="start" font-style="italic" fill="#1a1a1a">Aox4<tspan dy="-4.1" font-size="8.5">-/-</tspan></text>
<path d="M462.3,239.4 H466.2 V263.9 H462.3" stroke="#333" stroke-width="1.1" fill="none"/>
<text x="468.5" y="255.7" font-size="12" text-anchor="start" font-weight="normal" font-style="italic" fill="#1a1a1a" >ND</text>
<circle cx="410.90" cy="363.10" r="4.4" fill="#ff6600" stroke="#1a1a1a" stroke-width="1"/>
<text x="419.4" y="366.8" font-size="11" text-anchor="start" font-weight="normal" font-style="italic" fill="#1a1a1a" >WT</text>
<circle cx="410.90" cy="377.70" r="4.4" fill="#ffcc00" stroke="#1a1a1a" stroke-width="1"/>
<text x="419.4" y="382.8" font-size="11" text-anchor="start" font-style="italic" fill="#1a1a1a">Aox4<tspan dy="-4.1" font-size="8.5">-/-</tspan></text>
<path d="M455,358.4 H458.8 V382.9 H455" stroke="#333" stroke-width="1.1" fill="none"/>
<text x="461.5" y="374.5" font-size="12" text-anchor="start" font-weight="normal" font-style="italic" fill="#1a1a1a" >HFD</text>
<line x1="305.20" y1="494.80" x2="305.20" y2="593.60" stroke="#444" stroke-width="1.2"/>
<line x1="302.20" y1="593.60" x2="305.20" y2="593.60" stroke="#444" stroke-width="1.1"/>
<text x="301.2" y="597.9" font-size="12" text-anchor="end" font-weight="normal" font-style="normal" fill="#1a1a1a" >200</text>
<line x1="302.20" y1="560.67" x2="305.20" y2="560.67" stroke="#444" stroke-width="1.1"/>
<text x="301.2" y="565.0" font-size="12" text-anchor="end" font-weight="normal" font-style="normal" fill="#1a1a1a" >240</text>
<line x1="302.20" y1="527.74" x2="305.20" y2="527.74" stroke="#444" stroke-width="1.1"/>
<text x="301.2" y="532.0" font-size="12" text-anchor="end" font-weight="normal" font-style="normal" fill="#1a1a1a" >280</text>
<line x1="302.20" y1="494.80" x2="305.20" y2="494.80" stroke="#444" stroke-width="1.1"/>
<text x="301.2" y="499.1" font-size="12" text-anchor="end" font-weight="normal" font-style="normal" fill="#1a1a1a" >320</text>
<line x1="305.20" y1="593.60" x2="465.50" y2="593.60" stroke="#555" stroke-width="1.3"/>
<text transform="translate(268.0,546.3) rotate(-90)" x="0" y="0" font-size="12" text-anchor="middle" font-weight="normal" font-style="normal" fill="#1a1a1a">AUC</text>
<rect x="314.70" y="571.90" width="31.10" height="21.70" fill="#0000fa" stroke="#2a2a2a" stroke-width="1"/>
<line x1="330.25" y1="571.90" x2="330.25" y2="563.50" stroke="#333" stroke-width="1"/>
<line x1="327.65" y1="563.50" x2="332.85" y2="563.50" stroke="#333" stroke-width="1.3"/>
<rect x="349.30" y="523.20" width="31.20" height="70.40" fill="#3399cc" stroke="#2a2a2a" stroke-width="1"/>
<line x1="364.90" y1="523.20" x2="364.90" y2="510.40" stroke="#333" stroke-width="1"/>
<line x1="362.30" y1="510.40" x2="367.50" y2="510.40" stroke="#333" stroke-width="1.3"/>
<rect x="393.70" y="518.40" width="31.00" height="75.20" fill="#ff6600" stroke="#2a2a2a" stroke-width="1"/>
<line x1="409.20" y1="518.40" x2="409.20" y2="504.40" stroke="#333" stroke-width="1"/>
<line x1="406.60" y1="504.40" x2="411.80" y2="504.40" stroke="#333" stroke-width="1.3"/>
<rect x="427.50" y="531.40" width="31.30" height="62.20" fill="#ffcc00" stroke="#2a2a2a" stroke-width="1"/>
<line x1="443.15" y1="531.40" x2="443.15" y2="519.70" stroke="#333" stroke-width="1"/>
<line x1="440.55" y1="519.70" x2="445.75" y2="519.70" stroke="#333" stroke-width="1.3"/>
<path d="M330.4,544.2 V499.5 H364.8 V506.5" stroke="#555" stroke-width="1" fill="none"/>
<path d="M330.4,499.5 V487.6 H409.4 V494.6" stroke="#555" stroke-width="1" fill="none"/>
<path d="M345.40,491.55 L345.40,496.55 M343.23,492.80 L347.57,495.30 M347.57,492.80 L343.23,495.30 " stroke="#777" stroke-width="1.15" stroke-linecap="round" fill="none"/>
<path d="M351.70,491.55 L351.70,496.55 M349.53,492.80 L353.87,495.30 M353.87,492.80 L349.53,495.30 " stroke="#777" stroke-width="1.15" stroke-linecap="round" fill="none"/>
<path d="M366.90,479.70 L366.90,484.70 M364.73,480.95 L369.07,483.45 M369.07,480.95 L364.73,483.45 " stroke="#777" stroke-width="1.15" stroke-linecap="round" fill="none"/>
<path d="M372.80,479.70 L372.80,484.70 M370.63,480.95 L374.97,483.45 M374.97,480.95 L370.63,483.45 " stroke="#777" stroke-width="1.15" stroke-linecap="round" fill="none"/>
<text x="321.8" y="605.4" font-size="10" text-anchor="start" font-weight="normal" font-style="italic" fill="#1a1a1a" >WT</text>
<text x="347.9" y="605.4" font-size="10" text-anchor="start" font-style="italic" fill="#1a1a1a">Aox4<tspan dy="-4.2" font-size="8.0">-/-</tspan></text>
<text x="400.5" y="605.4" font-size="10" text-anchor="start" font-weight="normal" font-style="italic" fill="#1a1a1a" >WT</text>
<text x="427.8" y="605.4" font-size="10" text-anchor="start" font-style="italic" fill="#1a1a1a">Aox4<tspan dy="-4.2" font-size="8.0">-/-</tspan></text>
<path d="M314.1,608.6 V616.0 H380.1 V608.6" stroke="#555" stroke-width="1.1" fill="none"/>
<path d="M392.3,608.6 V616.0 H457.6 V608.6" stroke="#555" stroke-width="1.1" fill="none"/>
<text x="339.2" y="628.5" font-size="11" text-anchor="start" font-weight="normal" font-style="italic" fill="#1a1a1a" >ND</text>
<text x="414.6" y="628.5" font-size="11" text-anchor="start" font-weight="normal" font-style="italic" fill="#1a1a1a" >HFD</text>
<text x="253.8" y="663.7" font-size="21" text-anchor="start" font-weight="normal" font-style="normal" fill="#1a1a1a" >f</text>
<text x="366.3" y="664.6" font-size="14" text-anchor="start" font-weight="bold" font-style="italic" fill="#1a1a1a" >Liver</text>
<line x1="356.20" y1="677.50" x2="356.20" y2="805.80" stroke="#d4d4d4" stroke-width="1.2"/>
<line x1="307.40" y1="726.90" x2="463.30" y2="726.90" stroke="#d4d4d4" stroke-width="1.2"/>
<rect x="307.4" y="677.5" width="155.9" height="128.3" fill="none" stroke="#777" stroke-width="1.3"/>
<line x1="304.40" y1="686.50" x2="307.40" y2="686.50" stroke="#666" stroke-width="1.1"/>
<text x="302.0" y="690.9" font-size="12.5" text-anchor="end" font-weight="normal" font-style="normal" fill="#1a1a1a" >100</text>
<line x1="304.40" y1="726.90" x2="307.40" y2="726.90" stroke="#666" stroke-width="1.1"/>
<text x="302.0" y="731.3" font-size="12.5" text-anchor="end" font-weight="normal" font-style="normal" fill="#1a1a1a" >0</text>
<line x1="304.40" y1="767.30" x2="307.40" y2="767.30" stroke="#666" stroke-width="1.1"/>
<text x="302.0" y="771.7" font-size="12.5" text-anchor="end" font-weight="normal" font-style="normal" fill="#1a1a1a" >-100</text>
<line x1="305.40" y1="706.70" x2="307.40" y2="706.70" stroke="#666" stroke-width="1.0"/>
<line x1="305.40" y1="747.10" x2="307.40" y2="747.10" stroke="#666" stroke-width="1.0"/>
<line x1="305.40" y1="787.50" x2="307.40" y2="787.50" stroke="#666" stroke-width="1.0"/>
<line x1="307.45" y1="805.80" x2="307.45" y2="809.00" stroke="#666" stroke-width="1.1"/>
<text x="307.4" y="821.4" font-size="12.5" text-anchor="middle" font-weight="normal" font-style="normal" fill="#1a1a1a" >-100</text>
<line x1="356.20" y1="805.80" x2="356.20" y2="809.00" stroke="#666" stroke-width="1.1"/>
<text x="356.2" y="821.4" font-size="12.5" text-anchor="middle" font-weight="normal" font-style="normal" fill="#1a1a1a" >0</text>
<line x1="404.95" y1="805.80" x2="404.95" y2="809.00" stroke="#666" stroke-width="1.1"/>
<text x="404.9" y="821.4" font-size="12.5" text-anchor="middle" font-weight="normal" font-style="normal" fill="#1a1a1a" >100</text>
<line x1="453.70" y1="805.80" x2="453.70" y2="809.00" stroke="#666" stroke-width="1.1"/>
<text x="453.7" y="821.4" font-size="12.5" text-anchor="middle" font-weight="normal" font-style="normal" fill="#1a1a1a" >200</text>
<line x1="331.82" y1="805.80" x2="331.82" y2="808.00" stroke="#666" stroke-width="1.0"/>
<line x1="380.57" y1="805.80" x2="380.57" y2="808.00" stroke="#666" stroke-width="1.0"/>
<line x1="429.32" y1="805.80" x2="429.32" y2="808.00" stroke="#666" stroke-width="1.0"/>
<text x="441.1" y="835.6" font-size="10" text-anchor="start" font-weight="bold" font-style="normal" fill="#1a1a1a" >PC 1</text>
<text transform="translate(277.0,692.8) rotate(-90)" x="0" y="0" font-size="10" text-anchor="middle" font-weight="bold" font-style="normal" fill="#1a1a1a">PC 2</text>
<circle cx="339.20" cy="722.50" r="3.6" fill="#3399cc" stroke="#1a1a1a" stroke-width="0.9"/>
<circle cx="367.30" cy="723.50" r="3.6" fill="#3399cc" stroke="#1a1a1a" stroke-width="0.9"/>
<circle cx="353.30" cy="766.80" r="3.6" fill="#3399cc" stroke="#1a1a1a" stroke-width="0.9"/>
<circle cx="358.90" cy="763.90" r="3.6" fill="#3399cc" stroke="#1a1a1a" stroke-width="0.9"/>
<circle cx="456.70" cy="682.90" r="3.6" fill="#0000fa" stroke="#1a1a1a" stroke-width="0.9"/>
<circle cx="394.00" cy="706.40" r="3.6" fill="#0000fa" stroke="#1a1a1a" stroke-width="0.9"/>
<circle cx="441.80" cy="733.20" r="3.6" fill="#0000fa" stroke="#1a1a1a" stroke-width="0.9"/>
<circle cx="384.60" cy="800.70" r="3.6" fill="#0000fa" stroke="#1a1a1a" stroke-width="0.9"/>
<circle cx="318.70" cy="706.80" r="3.6" fill="#ffcc00" stroke="#1a1a1a" stroke-width="0.9"/>
<circle cx="327.80" cy="699.20" r="3.6" fill="#ffcc00" stroke="#1a1a1a" stroke-width="0.9"/>
<circle cx="336.30" cy="705.50" r="3.6" fill="#ffcc00" stroke="#1a1a1a" stroke-width="0.9"/>
<circle cx="328.10" cy="747.10" r="3.6" fill="#ffcc00" stroke="#1a1a1a" stroke-width="0.9"/>
<circle cx="312.60" cy="699.40" r="3.6" fill="#ff6600" stroke="#1a1a1a" stroke-width="0.9"/>
<circle cx="318.70" cy="702.20" r="3.6" fill="#ff6600" stroke="#1a1a1a" stroke-width="0.9"/>
<circle cx="336.90" cy="709.80" r="3.6" fill="#ff6600" stroke="#1a1a1a" stroke-width="0.9"/>
<circle cx="316.30" cy="758.10" r="3.6" fill="#ff6600" stroke="#1a1a1a" stroke-width="0.9"/>
<circle cx="270.50" cy="839.60" r="3.3" fill="#0000fa" stroke="#1a1a1a" stroke-width="0.9"/>
<text x="276.8" y="842.2" font-size="7.8" text-anchor="start" font-weight="normal" font-style="italic" fill="#1a1a1a" >WT</text>
<circle cx="270.50" cy="850.50" r="3.3" fill="#3399cc" stroke="#1a1a1a" stroke-width="0.9"/>
<text x="276.8" y="854.0" font-size="7.5" text-anchor="start" font-style="italic" fill="#1a1a1a">Aox4<tspan dy="-3.2" font-size="6.0">-/-</tspan></text>
<path d="M302.8,836.5 H305.7 V854.5 H302.8" stroke="#444" stroke-width="1" fill="none"/>
<text x="307.9" y="848.3" font-size="8.8" text-anchor="start" font-weight="normal" font-style="italic" fill="#1a1a1a" >ND</text>
<circle cx="330.50" cy="839.60" r="3.3" fill="#ff6600" stroke="#1a1a1a" stroke-width="0.9"/>
<text x="336.6" y="842.2" font-size="7.8" text-anchor="start" font-weight="normal" font-style="italic" fill="#1a1a1a" >WT</text>
<circle cx="330.50" cy="850.50" r="3.3" fill="#ffcc00" stroke="#1a1a1a" stroke-width="0.9"/>
<text x="336.6" y="854.0" font-size="7.5" text-anchor="start" font-style="italic" fill="#1a1a1a">Aox4<tspan dy="-3.2" font-size="6.0">-/-</tspan></text>
<path d="M363.2,836.5 H366.2 V854.5 H363.2" stroke="#444" stroke-width="1" fill="none"/>
<text x="368.3" y="848.3" font-size="8.8" text-anchor="start" font-weight="normal" font-style="italic" fill="#1a1a1a" >HFD</text>
<text x="507.6" y="231.2" font-size="21" text-anchor="start" font-weight="normal" font-style="normal" fill="#1a1a1a" >g</text>
<text x="547" y="234.8" font-size="8.6" fill="#1a1a1a">log<tspan dy="3.6" font-size="7.5">2</tspan><tspan dy="-3.6"> MCEV</tspan></text>
<rect x="523.0" y="243.1" width="90.6" height="8.5" fill="url(#cbar)"/>
<text x="514.2" y="262.1" font-size="11" text-anchor="start" font-weight="normal" font-style="normal" fill="#1a1a1a" >-2.0</text>
<text x="560.3" y="262.1" font-size="11" text-anchor="start" font-weight="normal" font-style="normal" fill="#1a1a1a" >0.0</text>
<text x="606.3" y="262.1" font-size="11" text-anchor="start" font-weight="normal" font-style="normal" fill="#1a1a1a" >2.0</text>
<text x="535.1" y="286.1" font-size="12.5" text-anchor="start" font-weight="normal" font-style="italic" fill="#1a1a1a" >WT</text>
<text x="569.6" y="286.0" font-size="12.5" text-anchor="start" font-style="italic" fill="#1a1a1a">Aox4<tspan dy="-2.4" font-size="11.0">-/-</tspan></text>
<path d="M521.4,296 V290.9 H566.7 V296" stroke="#444" stroke-width="1.1" fill="none"/>
<path d="M568.8,296 V290.9 H613.3 V296" stroke="#444" stroke-width="1.1" fill="none"/>
<rect x="522.00" y="300.20" width="12.45" height="14.23" fill="rgb(0,240,0)"/>
<rect x="533.45" y="300.20" width="12.45" height="14.23" fill="rgb(0,228,0)"/>
<rect x="544.90" y="300.20" width="12.45" height="14.23" fill="rgb(0,24,0)"/>
<rect x="556.35" y="300.20" width="12.45" height="14.23" fill="rgb(26,0,0)"/>
<rect x="567.80" y="300.20" width="12.45" height="14.23" fill="rgb(255,0,0)"/>
<rect x="579.25" y="300.20" width="12.45" height="14.23" fill="rgb(217,0,0)"/>
<rect x="590.70" y="300.20" width="12.45" height="14.23" fill="rgb(128,0,0)"/>
<rect x="602.15" y="300.20" width="11.45" height="14.23" fill="rgb(0,72,0)"/>
<rect x="522.00" y="313.43" width="12.45" height="14.23" fill="rgb(0,240,0)"/>
<rect x="533.45" y="313.43" width="12.45" height="14.23" fill="rgb(0,192,0)"/>
<rect x="544.90" y="313.43" width="12.45" height="14.23" fill="rgb(0,180,0)"/>
<rect x="556.35" y="313.43" width="12.45" height="14.23" fill="rgb(0,96,0)"/>
<rect x="567.80" y="313.43" width="12.45" height="14.23" fill="rgb(255,0,0)"/>
<rect x="579.25" y="313.43" width="12.45" height="14.23" fill="rgb(89,0,0)"/>
<rect x="590.70" y="313.43" width="12.45" height="14.23" fill="rgb(178,0,0)"/>
<rect x="602.15" y="313.43" width="11.45" height="14.23" fill="rgb(255,0,0)"/>
<rect x="522.00" y="326.65" width="12.45" height="14.23" fill="rgb(0,240,0)"/>
<rect x="533.45" y="326.65" width="12.45" height="14.23" fill="rgb(0,192,0)"/>
<rect x="544.90" y="326.65" width="12.45" height="14.23" fill="rgb(0,180,0)"/>
<rect x="556.35" y="326.65" width="12.45" height="14.23" fill="rgb(0,156,0)"/>
<rect x="567.80" y="326.65" width="12.45" height="14.23" fill="rgb(255,0,0)"/>
<rect x="579.25" y="326.65" width="12.45" height="14.23" fill="rgb(230,0,0)"/>
<rect x="590.70" y="326.65" width="12.45" height="14.23" fill="rgb(255,0,0)"/>
<rect x="602.15" y="326.65" width="11.45" height="14.23" fill="rgb(178,0,0)"/>
<rect x="522.00" y="339.88" width="12.45" height="14.23" fill="rgb(13,0,0)"/>
<rect x="533.45" y="339.88" width="12.45" height="14.23" fill="rgb(0,24,0)"/>
<rect x="544.90" y="339.88" width="12.45" height="14.23" fill="rgb(0,240,0)"/>
<rect x="556.35" y="339.88" width="12.45" height="14.23" fill="rgb(0,24,0)"/>
<rect x="567.80" y="339.88" width="12.45" height="14.23" fill="rgb(13,0,0)"/>
<rect x="579.25" y="339.88" width="12.45" height="14.23" fill="rgb(242,0,0)"/>
<rect x="590.70" y="339.88" width="12.45" height="14.23" fill="rgb(230,0,0)"/>
<rect x="602.15" y="339.88" width="11.45" height="14.23" fill="rgb(166,0,0)"/>
<rect x="522.00" y="353.10" width="12.45" height="14.23" fill="rgb(0,144,0)"/>
<rect x="533.45" y="353.10" width="12.45" height="14.23" fill="rgb(0,216,0)"/>
<rect x="544.90" y="353.10" width="12.45" height="14.23" fill="rgb(76,0,0)"/>
<rect x="556.35" y="353.10" width="12.45" height="14.23" fill="rgb(76,0,0)"/>
<rect x="567.80" y="353.10" width="12.45" height="14.23" fill="rgb(0,108,0)"/>
<rect x="579.25" y="353.10" width="12.45" height="14.23" fill="rgb(89,0,0)"/>
<rect x="590.70" y="353.10" width="12.45" height="14.23" fill="rgb(0,60,0)"/>
<rect x="602.15" y="353.10" width="11.45" height="14.23" fill="rgb(64,0,0)"/>
<rect x="522.00" y="366.33" width="12.45" height="14.23" fill="rgb(38,0,0)"/>
<rect x="533.45" y="366.33" width="12.45" height="14.23" fill="rgb(0,48,0)"/>
<rect x="544.90" y="366.33" width="12.45" height="14.23" fill="rgb(5,0,0)"/>
<rect x="556.35" y="366.33" width="12.45" height="14.23" fill="rgb(0,72,0)"/>
<rect x="567.80" y="366.33" width="12.45" height="14.23" fill="rgb(0,0,0)"/>
<rect x="579.25" y="366.33" width="12.45" height="14.23" fill="rgb(64,0,0)"/>
<rect x="590.70" y="366.33" width="12.45" height="14.23" fill="rgb(191,0,0)"/>
<rect x="602.15" y="366.33" width="11.45" height="14.23" fill="rgb(0,60,0)"/>
<rect x="522.00" y="379.56" width="12.45" height="14.23" fill="rgb(31,0,0)"/>
<rect x="533.45" y="379.56" width="12.45" height="14.23" fill="rgb(0,7,0)"/>
<rect x="544.90" y="379.56" width="12.45" height="14.23" fill="rgb(8,0,0)"/>
<rect x="556.35" y="379.56" width="12.45" height="14.23" fill="rgb(0,84,0)"/>
<rect x="567.80" y="379.56" width="12.45" height="14.23" fill="rgb(26,0,0)"/>
<rect x="579.25" y="379.56" width="12.45" height="14.23" fill="rgb(0,48,0)"/>
<rect x="590.70" y="379.56" width="12.45" height="14.23" fill="rgb(89,0,0)"/>
<rect x="602.15" y="379.56" width="11.45" height="14.23" fill="rgb(0,0,0)"/>
<rect x="522.00" y="392.78" width="12.45" height="14.23" fill="rgb(13,0,0)"/>
<rect x="533.45" y="392.78" width="12.45" height="14.23" fill="rgb(0,60,0)"/>
<rect x="544.90" y="392.78" width="12.45" height="14.23" fill="rgb(13,0,0)"/>
<rect x="556.35" y="392.78" width="12.45" height="14.23" fill="rgb(0,48,0)"/>
<rect x="567.80" y="392.78" width="12.45" height="14.23" fill="rgb(20,0,0)"/>
<rect x="579.25" y="392.78" width="12.45" height="14.23" fill="rgb(0,48,0)"/>
<rect x="590.70" y="392.78" width="12.45" height="14.23" fill="rgb(51,0,0)"/>
<rect x="602.15" y="392.78" width="11.45" height="14.23" fill="rgb(0,0,0)"/>
<rect x="522.00" y="406.01" width="12.45" height="14.23" fill="rgb(0,0,0)"/>
<rect x="533.45" y="406.01" width="12.45" height="14.23" fill="rgb(0,36,0)"/>
<rect x="544.90" y="406.01" width="12.45" height="14.23" fill="rgb(18,0,0)"/>
<rect x="556.35" y="406.01" width="12.45" height="14.23" fill="rgb(0,29,0)"/>
<rect x="567.80" y="406.01" width="12.45" height="14.23" fill="rgb(0,60,0)"/>
<rect x="579.25" y="406.01" width="12.45" height="14.23" fill="rgb(0,0,0)"/>
<rect x="590.70" y="406.01" width="12.45" height="14.23" fill="rgb(26,0,0)"/>
<rect x="602.15" y="406.01" width="11.45" height="14.23" fill="rgb(26,0,0)"/>
<rect x="522.00" y="419.23" width="12.45" height="14.23" fill="rgb(0,120,0)"/>
<rect x="533.45" y="419.23" width="12.45" height="14.23" fill="rgb(0,72,0)"/>
<rect x="544.90" y="419.23" width="12.45" height="14.23" fill="rgb(0,24,0)"/>
<rect x="556.35" y="419.23" width="12.45" height="14.23" fill="rgb(0,0,0)"/>
<rect x="567.80" y="419.23" width="12.45" height="14.23" fill="rgb(13,0,0)"/>
<rect x="579.25" y="419.23" width="12.45" height="14.23" fill="rgb(64,0,0)"/>
<rect x="590.70" y="419.23" width="12.45" height="14.23" fill="rgb(51,0,0)"/>
<rect x="602.15" y="419.23" width="11.45" height="14.23" fill="rgb(102,0,0)"/>
<rect x="522.00" y="432.46" width="12.45" height="14.23" fill="rgb(0,168,0)"/>
<rect x="533.45" y="432.46" width="12.45" height="14.23" fill="rgb(0,36,0)"/>
<rect x="544.90" y="432.46" width="12.45" height="14.23" fill="rgb(0,36,0)"/>
<rect x="556.35" y="432.46" width="12.45" height="14.23" fill="rgb(26,0,0)"/>
<rect x="567.80" y="432.46" width="12.45" height="14.23" fill="rgb(0,36,0)"/>
<rect x="579.25" y="432.46" width="12.45" height="14.23" fill="rgb(76,0,0)"/>
<rect x="590.70" y="432.46" width="12.45" height="14.23" fill="rgb(64,0,0)"/>
<rect x="602.15" y="432.46" width="11.45" height="14.23" fill="rgb(20,0,0)"/>
<rect x="522.00" y="445.69" width="12.45" height="14.23" fill="rgb(0,132,0)"/>
<rect x="533.45" y="445.69" width="12.45" height="14.23" fill="rgb(0,36,0)"/>
<rect x="544.90" y="445.69" width="12.45" height="14.23" fill="rgb(0,36,0)"/>
<rect x="556.35" y="445.69" width="12.45" height="14.23" fill="rgb(31,0,0)"/>
<rect x="567.80" y="445.69" width="12.45" height="14.23" fill="rgb(102,0,0)"/>
<rect x="579.25" y="445.69" width="12.45" height="14.23" fill="rgb(115,0,0)"/>
<rect x="590.70" y="445.69" width="12.45" height="14.23" fill="rgb(38,0,0)"/>
<rect x="602.15" y="445.69" width="11.45" height="14.23" fill="rgb(0,84,0)"/>
<rect x="522.00" y="458.91" width="12.45" height="14.23" fill="rgb(0,132,0)"/>
<rect x="533.45" y="458.91" width="12.45" height="14.23" fill="rgb(0,36,0)"/>
<rect x="544.90" y="458.91" width="12.45" height="14.23" fill="rgb(115,0,0)"/>
<rect x="556.35" y="458.91" width="12.45" height="14.23" fill="rgb(8,0,0)"/>
<rect x="567.80" y="458.91" width="12.45" height="14.23" fill="rgb(0,12,0)"/>
<rect x="579.25" y="458.91" width="12.45" height="14.23" fill="rgb(8,0,0)"/>
<rect x="590.70" y="458.91" width="12.45" height="14.23" fill="rgb(51,0,0)"/>
<rect x="602.15" y="458.91" width="11.45" height="14.23" fill="rgb(0,168,0)"/>
<rect x="522.00" y="472.14" width="12.45" height="14.23" fill="rgb(0,132,0)"/>
<rect x="533.45" y="472.14" width="12.45" height="14.23" fill="rgb(76,0,0)"/>
<rect x="544.90" y="472.14" width="12.45" height="14.23" fill="rgb(38,0,0)"/>
<rect x="556.35" y="472.14" width="12.45" height="14.23" fill="rgb(0,84,0)"/>
<rect x="567.80" y="472.14" width="12.45" height="14.23" fill="rgb(26,0,0)"/>
<rect x="579.25" y="472.14" width="12.45" height="14.23" fill="rgb(20,0,0)"/>
<rect x="590.70" y="472.14" width="12.45" height="14.23" fill="rgb(13,0,0)"/>
<rect x="602.15" y="472.14" width="11.45" height="14.23" fill="rgb(0,156,0)"/>
<rect x="522.00" y="485.36" width="12.45" height="14.23" fill="rgb(0,0,0)"/>
<rect x="533.45" y="485.36" width="12.45" height="14.23" fill="rgb(26,0,0)"/>
<rect x="544.90" y="485.36" width="12.45" height="14.23" fill="rgb(0,156,0)"/>
<rect x="556.35" y="485.36" width="12.45" height="14.23" fill="rgb(13,0,0)"/>
<rect x="567.80" y="485.36" width="12.45" height="14.23" fill="rgb(0,36,0)"/>
<rect x="579.25" y="485.36" width="12.45" height="14.23" fill="rgb(0,36,0)"/>
<rect x="590.70" y="485.36" width="12.45" height="14.23" fill="rgb(64,0,0)"/>
<rect x="602.15" y="485.36" width="11.45" height="14.23" fill="rgb(89,0,0)"/>
<rect x="522.00" y="498.59" width="12.45" height="14.23" fill="rgb(0,72,0)"/>
<rect x="533.45" y="498.59" width="12.45" height="14.23" fill="rgb(31,0,0)"/>
<rect x="544.90" y="498.59" width="12.45" height="14.23" fill="rgb(0,96,0)"/>
<rect x="556.35" y="498.59" width="12.45" height="14.23" fill="rgb(13,0,0)"/>
<rect x="567.80" y="498.59" width="12.45" height="14.23" fill="rgb(13,0,0)"/>
<rect x="579.25" y="498.59" width="12.45" height="14.23" fill="rgb(0,84,0)"/>
<rect x="590.70" y="498.59" width="12.45" height="14.23" fill="rgb(0,7,0)"/>
<rect x="602.15" y="498.59" width="11.45" height="14.23" fill="rgb(31,0,0)"/>
<rect x="522.00" y="511.82" width="12.45" height="14.23" fill="rgb(0,72,0)"/>
<rect x="533.45" y="511.82" width="12.45" height="14.23" fill="rgb(20,0,0)"/>
<rect x="544.90" y="511.82" width="12.45" height="14.23" fill="rgb(0,108,0)"/>
<rect x="556.35" y="511.82" width="12.45" height="14.23" fill="rgb(51,0,0)"/>
<rect x="567.80" y="511.82" width="12.45" height="14.23" fill="rgb(0,29,0)"/>
<rect x="579.25" y="511.82" width="12.45" height="14.23" fill="rgb(0,29,0)"/>
<rect x="590.70" y="511.82" width="12.45" height="14.23" fill="rgb(26,0,0)"/>
<rect x="602.15" y="511.82" width="11.45" height="14.23" fill="rgb(31,0,0)"/>
<rect x="522.00" y="525.04" width="12.45" height="14.23" fill="rgb(0,72,0)"/>
<rect x="533.45" y="525.04" width="12.45" height="14.23" fill="rgb(31,0,0)"/>
<rect x="544.90" y="525.04" width="12.45" height="14.23" fill="rgb(0,72,0)"/>
<rect x="556.35" y="525.04" width="12.45" height="14.23" fill="rgb(0,48,0)"/>
<rect x="567.80" y="525.04" width="12.45" height="14.23" fill="rgb(0,7,0)"/>
<rect x="579.25" y="525.04" width="12.45" height="14.23" fill="rgb(20,0,0)"/>
<rect x="590.70" y="525.04" width="12.45" height="14.23" fill="rgb(0,0,0)"/>
<rect x="602.15" y="525.04" width="11.45" height="14.23" fill="rgb(0,0,0)"/>
<rect x="522.00" y="538.27" width="12.45" height="14.23" fill="rgb(0,0,0)"/>
<rect x="533.45" y="538.27" width="12.45" height="14.23" fill="rgb(89,0,0)"/>
<rect x="544.90" y="538.27" width="12.45" height="14.23" fill="rgb(0,24,0)"/>
<rect x="556.35" y="538.27" width="12.45" height="14.23" fill="rgb(0,43,0)"/>
<rect x="567.80" y="538.27" width="12.45" height="14.23" fill="rgb(0,43,0)"/>
<rect x="579.25" y="538.27" width="12.45" height="14.23" fill="rgb(0,0,0)"/>
<rect x="590.70" y="538.27" width="12.45" height="14.23" fill="rgb(76,0,0)"/>
<rect x="602.15" y="538.27" width="11.45" height="14.23" fill="rgb(76,0,0)"/>
<rect x="522.00" y="551.49" width="12.45" height="14.23" fill="rgb(0,72,0)"/>
<rect x="533.45" y="551.49" width="12.45" height="14.23" fill="rgb(20,0,0)"/>
<rect x="544.90" y="551.49" width="12.45" height="14.23" fill="rgb(0,24,0)"/>
<rect x="556.35" y="551.49" width="12.45" height="14.23" fill="rgb(0,24,0)"/>
<rect x="567.80" y="551.49" width="12.45" height="14.23" fill="rgb(0,19,0)"/>
<rect x="579.25" y="551.49" width="12.45" height="14.23" fill="rgb(76,0,0)"/>
<rect x="590.70" y="551.49" width="12.45" height="14.23" fill="rgb(13,0,0)"/>
<rect x="602.15" y="551.49" width="11.45" height="14.23" fill="rgb(178,0,0)"/>
<rect x="522.00" y="564.72" width="12.45" height="14.23" fill="rgb(102,0,0)"/>
<rect x="533.45" y="564.72" width="12.45" height="14.23" fill="rgb(89,0,0)"/>
<rect x="544.90" y="564.72" width="12.45" height="14.23" fill="rgb(0,0,0)"/>
<rect x="556.35" y="564.72" width="12.45" height="14.23" fill="rgb(0,0,0)"/>
<rect x="567.80" y="564.72" width="12.45" height="14.23" fill="rgb(0,48,0)"/>
<rect x="579.25" y="564.72" width="12.45" height="14.23" fill="rgb(0,48,0)"/>
<rect x="590.70" y="564.72" width="12.45" height="14.23" fill="rgb(0,12,0)"/>
<rect x="602.15" y="564.72" width="11.45" height="14.23" fill="rgb(102,0,0)"/>
<rect x="522.00" y="577.95" width="12.45" height="14.23" fill="rgb(115,0,0)"/>
<rect x="533.45" y="577.95" width="12.45" height="14.23" fill="rgb(0,0,0)"/>
<rect x="544.90" y="577.95" width="12.45" height="14.23" fill="rgb(13,0,0)"/>
<rect x="556.35" y="577.95" width="12.45" height="14.23" fill="rgb(13,0,0)"/>
<rect x="567.80" y="577.95" width="12.45" height="14.23" fill="rgb(0,19,0)"/>
<rect x="579.25" y="577.95" width="12.45" height="14.23" fill="rgb(0,36,0)"/>
<rect x="590.70" y="577.95" width="12.45" height="14.23" fill="rgb(0,36,0)"/>
<rect x="602.15" y="577.95" width="11.45" height="14.23" fill="rgb(102,0,0)"/>
<rect x="522.00" y="591.17" width="12.45" height="14.23" fill="rgb(102,0,0)"/>
<rect x="533.45" y="591.17" width="12.45" height="14.23" fill="rgb(0,0,0)"/>
<rect x="544.90" y="591.17" width="12.45" height="14.23" fill="rgb(0,60,0)"/>
<rect x="556.35" y="591.17" width="12.45" height="14.23" fill="rgb(0,0,0)"/>
<rect x="567.80" y="591.17" width="12.45" height="14.23" fill="rgb(64,0,0)"/>
<rect x="579.25" y="591.17" width="12.45" height="14.23" fill="rgb(0,0,0)"/>
<rect x="590.70" y="591.17" width="12.45" height="14.23" fill="rgb(0,29,0)"/>
<rect x="602.15" y="591.17" width="11.45" height="14.23" fill="rgb(166,0,0)"/>
<rect x="522.00" y="604.40" width="12.45" height="14.23" fill="rgb(255,0,0)"/>
<rect x="533.45" y="604.40" width="12.45" height="14.23" fill="rgb(0,60,0)"/>
<rect x="544.90" y="604.40" width="12.45" height="14.23" fill="rgb(0,12,0)"/>
<rect x="556.35" y="604.40" width="12.45" height="14.23" fill="rgb(102,0,0)"/>
<rect x="567.80" y="604.40" width="12.45" height="14.23" fill="rgb(0,156,0)"/>
<rect x="579.25" y="604.40" width="12.45" height="14.23" fill="rgb(0,0,0)"/>
<rect x="590.70" y="604.40" width="12.45" height="14.23" fill="rgb(0,72,0)"/>
<rect x="602.15" y="604.40" width="11.45" height="14.23" fill="rgb(140,0,0)"/>
<rect x="522.00" y="617.62" width="12.45" height="14.23" fill="rgb(230,0,0)"/>
<rect x="533.45" y="617.62" width="12.45" height="14.23" fill="rgb(0,0,0)"/>
<rect x="544.90" y="617.62" width="12.45" height="14.23" fill="rgb(13,0,0)"/>
<rect x="556.35" y="617.62" width="12.45" height="14.23" fill="rgb(89,0,0)"/>
<rect x="567.80" y="617.62" width="12.45" height="14.23" fill="rgb(0,48,0)"/>
<rect x="579.25" y="617.62" width="12.45" height="14.23" fill="rgb(0,72,0)"/>
<rect x="590.70" y="617.62" width="12.45" height="14.23" fill="rgb(0,60,0)"/>
<rect x="602.15" y="617.62" width="11.45" height="14.23" fill="rgb(64,0,0)"/>
<rect x="522.00" y="630.85" width="12.45" height="14.23" fill="rgb(204,0,0)"/>
<rect x="533.45" y="630.85" width="12.45" height="14.23" fill="rgb(51,0,0)"/>
<rect x="544.90" y="630.85" width="12.45" height="14.23" fill="rgb(0,24,0)"/>
<rect x="556.35" y="630.85" width="12.45" height="14.23" fill="rgb(26,0,0)"/>
<rect x="567.80" y="630.85" width="12.45" height="14.23" fill="rgb(0,60,0)"/>
<rect x="579.25" y="630.85" width="12.45" height="14.23" fill="rgb(0,60,0)"/>
<rect x="590.70" y="630.85" width="12.45" height="14.23" fill="rgb(0,108,0)"/>
<rect x="602.15" y="630.85" width="11.45" height="14.23" fill="rgb(51,0,0)"/>
<rect x="522.00" y="644.08" width="12.45" height="14.23" fill="rgb(115,0,0)"/>
<rect x="533.45" y="644.08" width="12.45" height="14.23" fill="rgb(140,0,0)"/>
<rect x="544.90" y="644.08" width="12.45" height="14.23" fill="rgb(0,12,0)"/>
<rect x="556.35" y="644.08" width="12.45" height="14.23" fill="rgb(0,60,0)"/>
<rect x="567.80" y="644.08" width="12.45" height="14.23" fill="rgb(0,0,0)"/>
<rect x="579.25" y="644.08" width="12.45" height="14.23" fill="rgb(51,0,0)"/>
<rect x="590.70" y="644.08" width="12.45" height="14.23" fill="rgb(0,120,0)"/>
<rect x="602.15" y="644.08" width="11.45" height="14.23" fill="rgb(0,84,0)"/>
<rect x="522.00" y="657.30" width="12.45" height="14.23" fill="rgb(128,0,0)"/>
<rect x="533.45" y="657.30" width="12.45" height="14.23" fill="rgb(115,0,0)"/>
<rect x="544.90" y="657.30" width="12.45" height="14.23" fill="rgb(0,24,0)"/>
<rect x="556.35" y="657.30" width="12.45" height="14.23" fill="rgb(0,0,0)"/>
<rect x="567.80" y="657.30" width="12.45" height="14.23" fill="rgb(0,12,0)"/>
<rect x="579.25" y="657.30" width="12.45" height="14.23" fill="rgb(0,0,0)"/>
<rect x="590.70" y="657.30" width="12.45" height="14.23" fill="rgb(0,0,0)"/>
<rect x="602.15" y="657.30" width="11.45" height="14.23" fill="rgb(0,0,0)"/>
<rect x="522.00" y="670.53" width="12.45" height="14.23" fill="rgb(38,0,0)"/>
<rect x="533.45" y="670.53" width="12.45" height="14.23" fill="rgb(0,72,0)"/>
<rect x="544.90" y="670.53" width="12.45" height="14.23" fill="rgb(0,0,0)"/>
<rect x="556.35" y="670.53" width="12.45" height="14.23" fill="rgb(89,0,0)"/>
<rect x="567.80" y="670.53" width="12.45" height="14.23" fill="rgb(0,96,0)"/>
<rect x="579.25" y="670.53" width="12.45" height="14.23" fill="rgb(51,0,0)"/>
<rect x="590.70" y="670.53" width="12.45" height="14.23" fill="rgb(0,84,0)"/>
<rect x="602.15" y="670.53" width="11.45" height="14.23" fill="rgb(0,0,0)"/>
<rect x="522.00" y="683.75" width="12.45" height="14.23" fill="rgb(38,0,0)"/>
<rect x="533.45" y="683.75" width="12.45" height="14.23" fill="rgb(0,19,0)"/>
<rect x="544.90" y="683.75" width="12.45" height="14.23" fill="rgb(38,0,0)"/>
<rect x="556.35" y="683.75" width="12.45" height="14.23" fill="rgb(0,0,0)"/>
<rect x="567.80" y="683.75" width="12.45" height="14.23" fill="rgb(0,12,0)"/>
<rect x="579.25" y="683.75" width="12.45" height="14.23" fill="rgb(0,84,0)"/>
<rect x="590.70" y="683.75" width="12.45" height="14.23" fill="rgb(0,29,0)"/>
<rect x="602.15" y="683.75" width="11.45" height="14.23" fill="rgb(20,0,0)"/>
<rect x="522.00" y="696.98" width="12.45" height="14.23" fill="rgb(89,0,0)"/>
<rect x="533.45" y="696.98" width="12.45" height="14.23" fill="rgb(0,19,0)"/>
<rect x="544.90" y="696.98" width="12.45" height="14.23" fill="rgb(26,0,0)"/>
<rect x="556.35" y="696.98" width="12.45" height="14.23" fill="rgb(26,0,0)"/>
<rect x="567.80" y="696.98" width="12.45" height="14.23" fill="rgb(38,0,0)"/>
<rect x="579.25" y="696.98" width="12.45" height="14.23" fill="rgb(0,96,0)"/>
<rect x="590.70" y="696.98" width="12.45" height="14.23" fill="rgb(0,60,0)"/>
<rect x="602.15" y="696.98" width="11.45" height="14.23" fill="rgb(0,36,0)"/>
<rect x="522.00" y="710.21" width="12.45" height="14.23" fill="rgb(0,0,0)"/>
<rect x="533.45" y="710.21" width="12.45" height="14.23" fill="rgb(38,0,0)"/>
<rect x="544.90" y="710.21" width="12.45" height="14.23" fill="rgb(0,84,0)"/>
<rect x="556.35" y="710.21" width="12.45" height="14.23" fill="rgb(128,0,0)"/>
<rect x="567.80" y="710.21" width="12.45" height="14.23" fill="rgb(64,0,0)"/>
<rect x="579.25" y="710.21" width="12.45" height="14.23" fill="rgb(0,0,0)"/>
<rect x="590.70" y="710.21" width="12.45" height="14.23" fill="rgb(0,108,0)"/>
<rect x="602.15" y="710.21" width="11.45" height="14.23" fill="rgb(0,72,0)"/>
<rect x="522.00" y="723.43" width="12.45" height="14.23" fill="rgb(0,48,0)"/>
<rect x="533.45" y="723.43" width="12.45" height="14.23" fill="rgb(20,0,0)"/>
<rect x="544.90" y="723.43" width="12.45" height="14.23" fill="rgb(76,0,0)"/>
<rect x="556.35" y="723.43" width="12.45" height="14.23" fill="rgb(46,0,0)"/>
<rect x="567.80" y="723.43" width="12.45" height="14.23" fill="rgb(0,19,0)"/>
<rect x="579.25" y="723.43" width="12.45" height="14.23" fill="rgb(76,0,0)"/>
<rect x="590.70" y="723.43" width="12.45" height="14.23" fill="rgb(0,84,0)"/>
<rect x="602.15" y="723.43" width="11.45" height="14.23" fill="rgb(0,108,0)"/>
<rect x="522.00" y="736.66" width="12.45" height="14.23" fill="rgb(0,12,0)"/>
<rect x="533.45" y="736.66" width="12.45" height="14.23" fill="rgb(115,0,0)"/>
<rect x="544.90" y="736.66" width="12.45" height="14.23" fill="rgb(89,0,0)"/>
<rect x="556.35" y="736.66" width="12.45" height="14.23" fill="rgb(89,0,0)"/>
<rect x="567.80" y="736.66" width="12.45" height="14.23" fill="rgb(0,19,0)"/>
<rect x="579.25" y="736.66" width="12.45" height="14.23" fill="rgb(26,0,0)"/>
<rect x="590.70" y="736.66" width="12.45" height="14.23" fill="rgb(0,120,0)"/>
<rect x="602.15" y="736.66" width="11.45" height="14.23" fill="rgb(0,120,0)"/>
<rect x="522.00" y="749.88" width="12.45" height="14.23" fill="rgb(89,0,0)"/>
<rect x="533.45" y="749.88" width="12.45" height="14.23" fill="rgb(140,0,0)"/>
<rect x="544.90" y="749.88" width="12.45" height="14.23" fill="rgb(153,0,0)"/>
<rect x="556.35" y="749.88" width="12.45" height="14.23" fill="rgb(153,0,0)"/>
<rect x="567.80" y="749.88" width="12.45" height="14.23" fill="rgb(0,120,0)"/>
<rect x="579.25" y="749.88" width="12.45" height="14.23" fill="rgb(0,108,0)"/>
<rect x="590.70" y="749.88" width="12.45" height="14.23" fill="rgb(0,120,0)"/>
<rect x="602.15" y="749.88" width="11.45" height="14.23" fill="rgb(0,132,0)"/>
<rect x="522.00" y="763.11" width="12.45" height="14.23" fill="rgb(0,48,0)"/>
<rect x="533.45" y="763.11" width="12.45" height="14.23" fill="rgb(178,0,0)"/>
<rect x="544.90" y="763.11" width="12.45" height="14.23" fill="rgb(20,0,0)"/>
<rect x="556.35" y="763.11" width="12.45" height="14.23" fill="rgb(38,0,0)"/>
<rect x="567.80" y="763.11" width="12.45" height="14.23" fill="rgb(128,0,0)"/>
<rect x="579.25" y="763.11" width="12.45" height="14.23" fill="rgb(0,24,0)"/>
<rect x="590.70" y="763.11" width="12.45" height="14.23" fill="rgb(0,228,0)"/>
<rect x="602.15" y="763.11" width="11.45" height="14.23" fill="rgb(0,60,0)"/>
<rect x="522.00" y="776.34" width="12.45" height="14.23" fill="rgb(0,120,0)"/>
<rect x="533.45" y="776.34" width="12.45" height="14.23" fill="rgb(191,0,0)"/>
<rect x="544.90" y="776.34" width="12.45" height="14.23" fill="rgb(26,0,0)"/>
<rect x="556.35" y="776.34" width="12.45" height="14.23" fill="rgb(64,0,0)"/>
<rect x="567.80" y="776.34" width="12.45" height="14.23" fill="rgb(191,0,0)"/>
<rect x="579.25" y="776.34" width="12.45" height="14.23" fill="rgb(0,48,0)"/>
<rect x="590.70" y="776.34" width="12.45" height="14.23" fill="rgb(0,192,0)"/>
<rect x="602.15" y="776.34" width="11.45" height="14.23" fill="rgb(0,180,0)"/>
<rect x="522.00" y="789.56" width="12.45" height="14.23" fill="rgb(0,216,0)"/>
<rect x="533.45" y="789.56" width="12.45" height="14.23" fill="rgb(26,0,0)"/>
<rect x="544.90" y="789.56" width="12.45" height="14.23" fill="rgb(0,108,0)"/>
<rect x="556.35" y="789.56" width="12.45" height="14.23" fill="rgb(18,0,0)"/>
<rect x="567.80" y="789.56" width="12.45" height="14.23" fill="rgb(8,0,0)"/>
<rect x="579.25" y="789.56" width="12.45" height="14.23" fill="rgb(26,0,0)"/>
<rect x="590.70" y="789.56" width="12.45" height="14.23" fill="rgb(0,0,0)"/>
<rect x="602.15" y="789.56" width="11.45" height="14.23" fill="rgb(0,48,0)"/>
<rect x="522.00" y="802.79" width="12.45" height="14.23" fill="rgb(0,168,0)"/>
<rect x="533.45" y="802.79" width="12.45" height="14.23" fill="rgb(128,0,0)"/>
<rect x="544.90" y="802.79" width="12.45" height="14.23" fill="rgb(0,60,0)"/>
<rect x="556.35" y="802.79" width="12.45" height="14.23" fill="rgb(38,0,0)"/>
<rect x="567.80" y="802.79" width="12.45" height="14.23" fill="rgb(255,0,0)"/>
<rect x="579.25" y="802.79" width="12.45" height="14.23" fill="rgb(0,0,0)"/>
<rect x="590.70" y="802.79" width="12.45" height="14.23" fill="rgb(0,0,0)"/>
<rect x="602.15" y="802.79" width="11.45" height="14.23" fill="rgb(0,108,0)"/>
<rect x="522.00" y="816.01" width="12.45" height="14.23" fill="rgb(0,204,0)"/>
<rect x="533.45" y="816.01" width="12.45" height="14.23" fill="rgb(0,72,0)"/>
<rect x="544.90" y="816.01" width="12.45" height="14.23" fill="rgb(0,108,0)"/>
<rect x="556.35" y="816.01" width="12.45" height="14.23" fill="rgb(26,0,0)"/>
<rect x="567.80" y="816.01" width="12.45" height="14.23" fill="rgb(191,0,0)"/>
<rect x="579.25" y="816.01" width="12.45" height="14.23" fill="rgb(0,24,0)"/>
<rect x="590.70" y="816.01" width="12.45" height="14.23" fill="rgb(217,0,0)"/>
<rect x="602.15" y="816.01" width="11.45" height="14.23" fill="rgb(0,0,0)"/>
<rect x="522.00" y="829.24" width="12.45" height="14.23" fill="rgb(0,168,0)"/>
<rect x="533.45" y="829.24" width="12.45" height="14.23" fill="rgb(0,72,0)"/>
<rect x="544.90" y="829.24" width="12.45" height="14.23" fill="rgb(64,0,0)"/>
<rect x="556.35" y="829.24" width="12.45" height="14.23" fill="rgb(230,0,0)"/>
<rect x="567.80" y="829.24" width="12.45" height="14.23" fill="rgb(230,0,0)"/>
<rect x="579.25" y="829.24" width="12.45" height="14.23" fill="rgb(0,60,0)"/>
<rect x="590.70" y="829.24" width="12.45" height="14.23" fill="rgb(140,0,0)"/>
<rect x="602.15" y="829.24" width="11.45" height="14.23" fill="rgb(0,228,0)"/>
<rect x="522.00" y="842.47" width="12.45" height="13.23" fill="rgb(255,0,0)"/>
<rect x="533.45" y="842.47" width="12.45" height="13.23" fill="rgb(255,0,0)"/>
<rect x="544.90" y="842.47" width="12.45" height="13.23" fill="rgb(255,0,0)"/>
<rect x="556.35" y="842.47" width="12.45" height="13.23" fill="rgb(153,0,0)"/>
<rect x="567.80" y="842.47" width="12.45" height="13.23" fill="rgb(0,228,0)"/>
<rect x="579.25" y="842.47" width="12.45" height="13.23" fill="rgb(0,144,0)"/>
<rect x="590.70" y="842.47" width="12.45" height="13.23" fill="rgb(0,144,0)"/>
<rect x="602.15" y="842.47" width="11.45" height="13.23" fill="rgb(0,228,0)"/>
<text x="619.3" y="311.0" font-size="11" text-anchor="start" font-weight="normal" font-style="normal" fill="#1a1a1a" >Per1</text>
<text x="619.3" y="324.2" font-size="11" text-anchor="start" font-weight="normal" font-style="normal" fill="#1a1a1a" >Per2</text>
<text x="619.3" y="337.4" font-size="11" text-anchor="start" font-weight="normal" font-style="normal" fill="#1a1a1a" >Per3</text>
<text x="619.3" y="350.6" font-size="11" text-anchor="start" font-weight="normal" font-style="normal" fill="#1a1a1a" >Camk2b</text>
<text x="619.3" y="363.8" font-size="11" text-anchor="start" font-weight="normal" font-style="normal" fill="#1a1a1a" >Gucy1b2</text>
<text x="619.3" y="376.9" font-size="11" text-anchor="start" font-weight="normal" font-style="normal" fill="#1a1a1a" >Rasd1</text>
<text x="619.3" y="390.1" font-size="11" text-anchor="start" font-weight="normal" font-style="normal" fill="#1a1a1a" >Rps6ka2</text>
<text x="619.3" y="403.3" font-size="11" text-anchor="start" font-weight="normal" font-style="normal" fill="#1a1a1a" >Grin2c</text>
<text x="619.3" y="416.5" font-size="11" text-anchor="start" font-weight="normal" font-style="normal" fill="#1a1a1a" >Grin1</text>
<text x="619.3" y="429.7" font-size="11" text-anchor="start" font-weight="normal" font-style="normal" fill="#1a1a1a" >Calm1</text>
<text x="619.3" y="442.9" font-size="11" text-anchor="start" font-weight="normal" font-style="normal" fill="#1a1a1a" >Mapk3</text>
<text x="619.3" y="456.1" font-size="11" text-anchor="start" font-weight="normal" font-style="normal" fill="#1a1a1a" >Rps6ka1</text>
<text x="619.3" y="469.3" font-size="11" text-anchor="start" font-weight="normal" font-style="normal" fill="#1a1a1a" >Camk2g</text>
<text x="619.3" y="482.5" font-size="11" text-anchor="start" font-weight="normal" font-style="normal" fill="#1a1a1a" >Rps6ka3</text>
<text x="619.3" y="495.7" font-size="11" text-anchor="start" font-weight="normal" font-style="normal" fill="#1a1a1a" >Cry1</text>
<text x="619.3" y="508.9" font-size="11" text-anchor="start" font-weight="normal" font-style="normal" fill="#1a1a1a" >Grin2a</text>
<text x="619.3" y="522.0" font-size="11" text-anchor="start" font-weight="normal" font-style="normal" fill="#1a1a1a" >Map2k2</text>
<text x="619.3" y="535.2" font-size="11" text-anchor="start" font-weight="normal" font-style="normal" fill="#1a1a1a" >Gucy1b3</text>
<text x="619.3" y="548.4" font-size="11" text-anchor="start" font-weight="normal" font-style="normal" fill="#1a1a1a" >Map2k1</text>
<text x="619.3" y="561.6" font-size="11" text-anchor="start" font-weight="normal" font-style="normal" fill="#1a1a1a" >Calm3</text>
<text x="619.3" y="574.8" font-size="11" text-anchor="start" font-weight="normal" font-style="normal" fill="#1a1a1a" >Csnk1d</text>
<text x="619.3" y="588.0" font-size="11" text-anchor="start" font-weight="normal" font-style="normal" fill="#1a1a1a" >Adcyap1</text>
<text x="619.3" y="601.2" font-size="11" text-anchor="start" font-weight="normal" font-style="normal" fill="#1a1a1a" >Camk2a</text>
<text x="619.3" y="614.4" font-size="11" text-anchor="start" font-weight="normal" font-style="normal" fill="#1a1a1a" >Ldha</text>
<text x="619.3" y="627.6" font-size="11" text-anchor="start" font-weight="normal" font-style="normal" fill="#1a1a1a" >Calm2</text>
<text x="619.3" y="640.8" font-size="11" text-anchor="start" font-weight="normal" font-style="normal" fill="#1a1a1a" >Npas2</text>
<text x="619.3" y="653.9" font-size="11" text-anchor="start" font-weight="normal" font-style="normal" fill="#1a1a1a" >Raf1</text>
<text x="619.3" y="667.1" font-size="11" text-anchor="start" font-weight="normal" font-style="normal" fill="#1a1a1a" >Prkg2</text>
<text x="619.3" y="680.3" font-size="11" text-anchor="start" font-weight="normal" font-style="normal" fill="#1a1a1a" >Nos1</text>
<text x="619.3" y="693.5" font-size="11" text-anchor="start" font-weight="normal" font-style="normal" fill="#1a1a1a" >Grin2b</text>
<text x="619.3" y="706.7" font-size="11" text-anchor="start" font-weight="normal" font-style="normal" fill="#1a1a1a" >Mapk1</text>
<text x="619.3" y="719.9" font-size="11" text-anchor="start" font-weight="normal" font-style="normal" fill="#1a1a1a" >Rora</text>
<text x="619.3" y="733.1" font-size="11" text-anchor="start" font-weight="normal" font-style="normal" fill="#1a1a1a" >Camk2d</text>
<text x="619.3" y="746.3" font-size="11" text-anchor="start" font-weight="normal" font-style="normal" fill="#1a1a1a" >Gucy1a3</text>
<text x="619.3" y="759.5" font-size="11" text-anchor="start" font-weight="normal" font-style="normal" fill="#1a1a1a" >Clock</text>
<text x="619.3" y="772.6" font-size="11" text-anchor="start" font-weight="normal" font-style="normal" fill="#1a1a1a" >Creb1</text>
<text x="619.3" y="785.8" font-size="11" text-anchor="start" font-weight="normal" font-style="normal" fill="#1a1a1a" >Csnk1e</text>
<text x="619.3" y="799.0" font-size="11" text-anchor="start" font-weight="normal" font-style="normal" fill="#1a1a1a" >Nr1d1</text>
<text x="619.3" y="812.2" font-size="11" text-anchor="start" font-weight="normal" font-style="normal" fill="#1a1a1a" >Adcyap1r1</text>
<text x="619.3" y="825.4" font-size="11" text-anchor="start" font-weight="normal" font-style="normal" fill="#1a1a1a" >Cry2</text>
<text x="619.3" y="838.6" font-size="11" text-anchor="start" font-weight="normal" font-style="normal" fill="#1a1a1a" >Grin2d</text>
<text x="619.3" y="851.8" font-size="11" text-anchor="start" font-weight="normal" font-style="normal" fill="#1a1a1a" >Arntl</text>
<rect x="2.3" y="2.4" width="680.1" height="870.9" fill="none" stroke="#1e1e1e" stroke-width="1.8"/>
<line x1="245.05" y1="2.40" x2="245.05" y2="873.30" stroke="#3a3a3a" stroke-width="2"/>
<line x1="2.30" y1="206.70" x2="682.40" y2="206.70" stroke="#3a3a3a" stroke-width="2"/>
<line x1="2.30" y1="400.90" x2="245.05" y2="400.90" stroke="#3a3a3a" stroke-width="2"/>
<line x1="497.40" y1="206.70" x2="497.40" y2="873.30" stroke="#2a2a2a" stroke-width="1.8"/>
<line x1="245.05" y1="641.50" x2="497.40" y2="641.50" stroke="#111" stroke-width="1.3"/>
</svg></body></html>
